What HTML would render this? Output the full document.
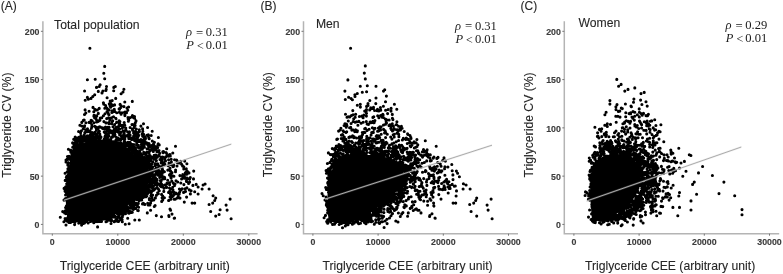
<!DOCTYPE html>
<html><head><meta charset="utf-8"><style>
html,body{margin:0;padding:0;background:#fff;width:783px;height:274px;overflow:hidden}
svg{display:block;will-change:transform}
.lab{font-family:"Liberation Sans",sans-serif;font-size:12px;fill:#262626;stroke:#262626;stroke-width:0.1}
.ttl{font-family:"Liberation Sans",sans-serif;font-size:12.2px;fill:#262626;stroke:#262626;stroke-width:0.1}
.tl{font-family:"Liberation Sans",sans-serif;font-size:9.8px;font-weight:bold;fill:#3c3c3c;stroke:#3c3c3c;stroke-width:0.15}
.math{font-family:"Liberation Serif",serif;font-size:12.5px;fill:#1a1a1a}
.axis{fill:none;stroke:#b4b4b4;stroke-width:1.5}
.tick{fill:none;stroke:#777;stroke-width:1}
</style></head><body>
<svg width="783" height="274" viewBox="0 0 783 274">
<path d="M67.5 222.0 L66.5 200.0 L67.5 178.0 L69.5 163.0 L72.0 152.0 L79.0 145.0 L92.0 140.0 L110.0 140.0 L122.0 143.0 L131.0 152.0 L146.0 163.0 L151.0 178.0 L145.0 190.0 L134.0 201.0 L118.0 212.0 L105.0 220.0 L80.0 222.0 Z" fill="#000"/>
<path d="M105.9 90.5h0M113.7 90.7h0M98.3 91.4h0M107.1 97.7h0M85.2 100.3h0M112.2 100.6h0M132.3 101.4h0M103.4 102.8h0M110.7 103.3h0M103.7 104.1h0M114.6 104.9h0M120.1 104.4h0M105.6 105.6h0M109.9 105.6h0M112.5 105.7h0M113.0 105.5h0M121.1 105.9h0M93.0 107.4h0M110.6 107.3h0M120.8 107.5h0M128.6 107.0h0M99.2 108.4h0M104.8 108.2h0M106.9 108.0h0M119.1 108.9h0M127.0 108.1h0M85.1 109.9h0M94.8 109.4h0M95.6 109.9h0M107.5 109.1h0M109.0 110.0h0M114.3 109.3h0M119.5 109.2h0M97.3 110.0h0M108.2 110.1h0M112.0 110.8h0M127.8 110.2h0M89.1 111.2h0M93.8 111.7h0M107.0 111.5h0M112.6 112.0h0M114.7 111.4h0M108.0 112.8h0M111.9 112.4h0M116.7 112.8h0M119.3 112.3h0M122.0 112.8h0M124.5 112.3h0M125.3 112.1h0M126.5 112.8h0M85.8 113.0h0M98.3 113.4h0M98.3 113.4h0M105.0 113.8h0M120.7 113.3h0M121.4 113.4h0M84.5 114.5h0M108.5 114.3h0M109.0 114.6h0M121.1 114.2h0M124.8 114.8h0M94.0 115.4h0M96.4 115.7h0M103.4 115.7h0M124.9 115.6h0M132.4 115.6h0M93.9 116.3h0M95.6 116.0h0M96.8 116.1h0M113.5 116.8h0M132.8 117.0h0M134.5 116.5h0M94.6 117.7h0M95.6 118.0h0M95.1 117.0h0M101.7 117.7h0M108.6 117.7h0M111.4 117.9h0M128.0 117.6h0M130.2 117.6h0M133.5 117.4h0M95.4 118.3h0M100.3 118.0h0M106.7 118.6h0M115.8 118.3h0M116.0 118.8h0M128.2 118.9h0M134.6 118.2h0M84.2 120.0h0M96.4 119.6h0M99.8 119.8h0M109.8 119.9h0M83.4 120.4h0M91.1 120.2h0M92.1 120.7h0M99.4 120.6h0M99.9 120.2h0M112.7 120.8h0M119.1 120.7h0M128.7 120.4h0M136.0 120.8h0M96.7 121.9h0M98.0 121.5h0M103.9 121.6h0M119.9 121.6h0M119.2 122.0h0M128.4 121.3h0M136.0 121.1h0M81.8 122.4h0M85.9 122.7h0M89.1 122.4h0M90.5 122.7h0M93.9 122.7h0M106.0 122.9h0M108.8 122.5h0M112.0 122.1h0M116.6 122.4h0M124.2 122.5h0M135.3 122.8h0M109.0 123.7h0M111.7 123.8h0M119.5 123.4h0M143.5 123.8h0M91.8 124.8h0M114.6 124.6h0M124.3 124.6h0M132.0 124.6h0M132.9 124.5h0M79.9 125.3h0M84.6 125.7h0M119.0 125.4h0M120.1 125.2h0M121.2 125.4h0M122.8 125.4h0M124.8 125.3h0M135.1 125.4h0M81.8 126.0h0M84.4 126.7h0M91.8 126.8h0M94.7 126.2h0M99.4 126.7h0M105.5 127.0h0M113.0 126.7h0M117.5 127.0h0M134.4 126.7h0M140.9 126.1h0M95.6 127.3h0M96.7 127.4h0M96.2 127.3h0M98.3 127.9h0M100.4 127.1h0M102.3 127.7h0M107.8 127.2h0M109.1 127.3h0M116.1 127.2h0M117.9 127.3h0M118.5 127.9h0M123.0 127.3h0M122.7 127.5h0M130.1 127.5h0M134.2 127.8h0M147.6 127.5h0M83.3 128.7h0M87.5 128.9h0M91.5 128.2h0M96.5 128.9h0M97.0 128.7h0M98.1 128.9h0M102.4 128.3h0M103.3 128.7h0M103.8 128.1h0M106.4 128.5h0M106.9 128.6h0M115.3 128.8h0M119.6 129.0h0M122.2 128.2h0M125.8 128.1h0M142.6 128.9h0M85.8 129.8h0M105.2 129.2h0M106.5 129.5h0M109.3 129.8h0M114.4 129.2h0M115.7 129.8h0M118.3 130.0h0M125.8 129.8h0M132.4 129.1h0M136.3 129.1h0M139.3 129.8h0M81.4 130.7h0M86.0 130.7h0M90.0 130.7h0M90.0 131.0h0M96.4 130.3h0M108.1 130.4h0M110.5 130.5h0M113.3 130.7h0M124.6 130.9h0M132.6 130.3h0M78.6 131.5h0M85.9 131.2h0M87.7 131.7h0M87.7 131.5h0M90.0 131.4h0M99.4 131.4h0M106.8 131.1h0M113.9 131.6h0M115.8 131.6h0M118.5 132.0h0M119.6 132.0h0M123.0 131.0h0M127.6 131.8h0M129.5 131.9h0M135.4 131.3h0M139.4 131.6h0M142.8 131.4h0M152.2 131.2h0M80.6 132.8h0M84.8 132.6h0M85.1 132.6h0M90.3 132.2h0M92.2 132.6h0M94.9 132.2h0M98.2 132.6h0M104.2 132.1h0M106.6 132.9h0M109.4 132.9h0M111.9 132.6h0M118.4 132.3h0M120.9 132.5h0M120.8 132.8h0M120.9 132.2h0M124.2 132.8h0M128.8 132.5h0M133.6 132.9h0M135.2 132.3h0M137.6 132.6h0M90.8 133.7h0M92.2 133.2h0M94.4 133.6h0M105.2 133.1h0M106.7 133.7h0M114.2 133.2h0M119.7 133.7h0M124.2 133.1h0M134.1 133.0h0M137.9 133.9h0M142.5 133.6h0M84.3 134.7h0M95.8 134.1h0M96.8 134.7h0M99.8 134.1h0M106.1 134.6h0M106.6 134.7h0M107.3 134.3h0M113.0 134.6h0M113.5 134.5h0M114.9 134.4h0M119.6 134.8h0M123.8 134.3h0M124.0 134.2h0M130.0 134.7h0M134.6 134.4h0M135.9 134.8h0M142.1 134.3h0M143.6 134.2h0M148.3 134.7h0M80.9 135.3h0M87.2 135.9h0M90.2 135.1h0M91.4 135.4h0M93.2 135.9h0M96.2 135.7h0M99.9 135.2h0M108.8 135.8h0M112.9 135.8h0M115.0 136.0h0M121.0 135.6h0M122.9 135.5h0M124.2 135.9h0M126.0 135.8h0M127.8 135.1h0M129.1 135.9h0M130.1 135.3h0M134.9 135.8h0M138.7 135.4h0M146.9 135.2h0M148.3 135.7h0M151.2 135.5h0M81.4 136.2h0M83.4 136.7h0M88.6 136.0h0M89.0 136.3h0M92.4 136.6h0M98.2 136.5h0M105.3 136.0h0M105.0 136.6h0M106.6 136.4h0M108.3 136.7h0M108.3 136.8h0M114.0 136.1h0M121.9 136.8h0M127.7 136.2h0M129.1 136.3h0M133.7 136.1h0M137.0 136.7h0M137.9 136.7h0M142.6 136.1h0M144.2 136.5h0M144.0 136.9h0M75.2 137.1h0M78.7 137.4h0M80.4 137.3h0M82.5 137.7h0M85.2 137.1h0M88.6 137.9h0M90.1 137.7h0M92.0 137.6h0M92.6 137.5h0M93.6 137.4h0M94.1 137.2h0M96.7 137.4h0M96.3 137.4h0M97.8 137.0h0M99.0 137.7h0M99.6 137.9h0M101.0 137.0h0M100.6 137.4h0M111.5 137.2h0M112.2 137.3h0M116.6 137.5h0M124.2 137.2h0M124.8 137.9h0M132.5 137.7h0M143.9 137.6h0M148.6 137.5h0M158.4 137.5h0M76.3 138.0h0M79.0 138.6h0M83.1 138.6h0M85.9 138.9h0M86.3 138.1h0M88.8 138.6h0M92.0 138.4h0M93.9 138.4h0M95.9 138.3h0M95.0 138.6h0M99.3 138.6h0M100.6 138.1h0M104.3 138.9h0M107.4 138.5h0M118.1 138.1h0M121.3 138.3h0M122.3 138.7h0M128.8 138.6h0M130.2 138.1h0M134.6 138.5h0M136.4 138.6h0M137.6 138.3h0M145.4 138.7h0M145.5 138.1h0M145.1 138.2h0M149.2 138.8h0M73.7 139.2h0M74.8 139.9h0M77.4 139.8h0M77.6 139.6h0M77.5 139.2h0M79.3 139.4h0M80.0 139.7h0M80.2 139.6h0M84.8 140.0h0M86.0 139.9h0M85.1 139.8h0M88.7 139.9h0M89.6 139.8h0M89.2 139.4h0M93.3 139.5h0M94.9 139.8h0M95.3 139.7h0M98.7 139.6h0M105.2 139.2h0M105.8 139.1h0M108.8 139.9h0M110.8 139.9h0M110.0 139.8h0M116.7 139.6h0M116.0 139.9h0M119.2 139.0h0M119.5 139.9h0M119.4 140.0h0M124.8 139.2h0M131.3 139.2h0M131.8 139.6h0M132.7 139.1h0M140.6 139.7h0M140.9 139.6h0M79.9 140.1h0M81.7 141.0h0M82.2 140.4h0M86.4 140.0h0M86.8 140.1h0M88.4 140.2h0M91.1 140.9h0M93.0 140.4h0M96.6 140.7h0M99.9 140.9h0M99.3 140.1h0M103.9 141.0h0M103.9 140.3h0M104.2 140.9h0M105.1 140.2h0M108.1 140.3h0M110.2 140.6h0M116.4 140.1h0M116.3 140.6h0M118.0 140.1h0M120.5 140.4h0M124.5 140.9h0M134.7 140.8h0M136.6 140.2h0M136.3 140.7h0M138.4 140.5h0M139.2 140.8h0M140.4 140.8h0M141.4 140.2h0M142.8 140.2h0M144.4 140.0h0M75.6 141.8h0M76.2 141.9h0M78.5 141.3h0M81.3 141.7h0M83.2 141.3h0M84.4 141.2h0M85.7 141.1h0M87.6 141.5h0M89.7 141.9h0M90.7 141.1h0M92.8 141.9h0M98.6 141.2h0M102.1 141.1h0M111.4 141.7h0M113.2 141.8h0M114.0 141.7h0M139.1 141.4h0M139.7 141.3h0M141.1 141.9h0M145.2 141.6h0M152.3 141.1h0M72.6 142.9h0M79.8 142.6h0M81.9 142.8h0M82.2 142.9h0M86.6 142.0h0M88.3 142.2h0M91.4 142.3h0M107.1 142.0h0M113.3 142.0h0M115.1 142.1h0M118.3 143.0h0M124.0 142.3h0M127.9 142.2h0M128.4 142.7h0M129.1 142.7h0M129.9 142.4h0M142.7 142.4h0M143.1 142.7h0M144.9 142.1h0M144.9 143.0h0M154.4 142.2h0M74.0 143.9h0M75.5 143.7h0M76.7 143.3h0M116.3 143.6h0M120.3 143.4h0M120.3 143.5h0M121.0 143.4h0M125.5 143.9h0M126.4 143.1h0M128.4 143.1h0M129.1 143.7h0M130.5 143.2h0M136.7 143.0h0M145.3 143.2h0M147.3 143.1h0M149.0 143.6h0M158.2 143.8h0M74.1 144.2h0M76.5 144.8h0M76.2 144.6h0M76.5 144.4h0M77.0 144.9h0M79.2 144.4h0M82.0 144.1h0M83.7 144.7h0M83.6 144.9h0M121.8 144.0h0M123.5 144.1h0M125.6 144.1h0M126.8 144.0h0M129.5 144.8h0M131.8 144.3h0M131.0 144.5h0M132.5 144.8h0M133.8 144.6h0M141.4 144.5h0M141.9 144.4h0M147.7 144.8h0M153.3 144.4h0M153.7 144.7h0M159.2 144.9h0M73.9 145.0h0M78.2 145.6h0M79.3 146.0h0M80.4 145.5h0M80.9 145.3h0M82.1 145.3h0M127.8 145.2h0M127.2 145.2h0M127.6 145.6h0M130.4 145.9h0M132.8 145.4h0M136.6 145.2h0M138.4 145.3h0M141.5 145.1h0M142.2 145.7h0M144.2 145.1h0M148.4 145.7h0M148.5 145.5h0M151.1 145.6h0M154.5 146.0h0M157.8 145.2h0M74.6 146.2h0M77.2 146.9h0M124.1 146.7h0M124.7 147.0h0M125.1 146.4h0M128.1 146.1h0M129.5 146.4h0M134.0 147.0h0M142.1 147.0h0M153.8 146.2h0M72.7 147.3h0M74.7 147.9h0M79.0 147.3h0M79.8 147.2h0M79.1 147.0h0M123.8 147.8h0M124.5 147.8h0M131.0 147.1h0M131.4 147.1h0M133.1 147.9h0M138.0 147.1h0M140.7 147.4h0M142.8 147.8h0M144.4 147.2h0M148.8 147.4h0M150.4 147.1h0M153.4 147.5h0M155.8 147.0h0M157.7 147.6h0M74.3 148.4h0M77.9 148.2h0M125.8 148.5h0M128.7 148.6h0M130.7 148.0h0M131.5 148.6h0M135.5 148.2h0M138.7 148.0h0M147.1 148.7h0M148.4 148.8h0M152.7 148.8h0M152.9 148.5h0M166.7 148.8h0M68.4 149.3h0M74.9 149.7h0M131.5 149.3h0M134.5 150.0h0M134.9 149.7h0M135.2 149.8h0M141.6 149.3h0M142.4 149.2h0M155.2 149.5h0M70.9 150.2h0M70.2 150.3h0M71.2 150.7h0M73.5 150.4h0M73.2 150.5h0M75.4 150.4h0M126.2 150.2h0M129.1 150.9h0M129.5 150.4h0M131.8 150.1h0M135.9 150.1h0M135.4 150.5h0M139.8 150.9h0M151.2 150.0h0M156.1 150.1h0M159.0 150.5h0M74.7 151.5h0M128.3 151.6h0M133.5 151.1h0M134.0 151.7h0M136.0 151.8h0M137.3 151.4h0M149.5 151.6h0M149.6 151.2h0M149.8 151.1h0M153.3 151.4h0M157.0 151.8h0M158.7 151.6h0M162.8 151.9h0M163.5 151.5h0M70.9 152.3h0M71.9 152.6h0M72.4 153.0h0M73.0 152.3h0M74.4 152.6h0M129.0 152.8h0M131.7 152.8h0M133.6 152.6h0M137.0 152.0h0M138.5 152.5h0M138.7 152.5h0M143.7 152.3h0M146.2 152.8h0M146.8 152.0h0M149.1 152.8h0M163.1 152.8h0M166.0 152.5h0M73.0 153.0h0M136.1 153.5h0M140.8 153.5h0M143.9 153.5h0M144.9 153.8h0M144.1 154.0h0M146.2 153.6h0M159.7 153.2h0M166.5 153.3h0M172.8 153.0h0M71.9 154.3h0M134.9 154.2h0M135.2 154.2h0M135.8 154.5h0M136.0 154.2h0M135.3 154.9h0M137.2 154.1h0M137.5 154.3h0M141.4 154.9h0M145.9 154.6h0M149.3 154.7h0M155.8 155.0h0M170.0 154.5h0M134.6 155.8h0M138.9 155.3h0M141.8 155.2h0M149.4 155.6h0M150.0 155.5h0M154.1 156.0h0M154.2 155.2h0M156.8 155.9h0M159.2 155.9h0M159.0 155.0h0M167.1 155.6h0M170.3 156.0h0M67.5 156.5h0M69.0 156.2h0M71.5 156.2h0M73.1 156.4h0M135.4 156.6h0M136.6 156.6h0M137.0 156.2h0M138.5 156.4h0M138.5 156.2h0M139.1 156.9h0M139.6 156.5h0M142.0 156.2h0M147.4 156.2h0M151.3 156.8h0M154.9 156.3h0M155.9 156.4h0M155.2 156.0h0M165.8 156.9h0M168.6 156.2h0M69.7 157.4h0M69.9 157.2h0M71.3 157.1h0M135.2 157.1h0M135.8 157.6h0M136.9 157.7h0M139.0 157.3h0M140.9 157.4h0M143.6 158.0h0M144.5 157.3h0M146.7 157.6h0M146.9 157.4h0M147.8 157.9h0M150.5 157.1h0M151.8 157.2h0M153.5 157.1h0M156.2 157.8h0M157.3 157.1h0M161.4 157.3h0M162.2 157.6h0M162.5 157.1h0M163.1 157.2h0M68.4 158.3h0M70.0 158.7h0M72.4 158.7h0M142.5 158.5h0M146.3 158.2h0M147.3 159.0h0M148.0 158.3h0M149.4 158.7h0M152.0 158.3h0M66.8 159.8h0M67.2 159.1h0M68.2 159.1h0M69.6 159.2h0M138.1 159.8h0M139.5 159.2h0M141.1 159.5h0M142.1 159.4h0M154.1 159.1h0M160.0 159.5h0M161.8 159.7h0M164.8 159.2h0M168.6 159.8h0M171.2 159.3h0M174.6 159.7h0M66.0 160.1h0M71.3 160.5h0M71.4 160.5h0M139.7 160.5h0M142.6 160.0h0M143.1 160.5h0M144.8 160.1h0M147.2 160.5h0M148.3 160.6h0M150.7 160.6h0M150.4 160.9h0M156.4 160.6h0M156.2 160.8h0M162.0 160.7h0M165.5 160.9h0M176.6 160.1h0M142.5 161.4h0M143.3 161.9h0M144.9 161.1h0M145.0 161.4h0M145.4 161.6h0M148.4 161.8h0M152.7 161.7h0M161.8 161.1h0M177.1 161.1h0M180.8 161.4h0M66.0 162.0h0M68.4 162.7h0M68.2 162.7h0M71.1 163.0h0M142.9 162.4h0M143.3 162.7h0M145.0 162.8h0M146.4 162.4h0M146.0 162.9h0M148.8 162.7h0M161.2 162.2h0M161.2 162.9h0M163.9 162.9h0M171.4 162.0h0M177.3 162.6h0M71.1 163.1h0M143.9 163.7h0M143.8 163.6h0M146.9 163.6h0M147.7 163.1h0M149.3 163.7h0M149.2 163.9h0M151.8 164.0h0M155.2 163.5h0M157.7 163.9h0M162.6 163.4h0M169.0 163.0h0M178.9 163.0h0M186.9 163.7h0M68.0 164.2h0M67.9 164.0h0M71.2 164.2h0M146.9 164.8h0M147.1 164.5h0M148.0 164.1h0M149.9 164.5h0M150.1 164.9h0M155.0 164.2h0M156.6 164.8h0M163.4 164.8h0M164.9 164.2h0M170.4 164.1h0M171.1 164.8h0M181.6 164.2h0M67.8 165.1h0M147.0 165.4h0M151.4 165.1h0M155.2 165.4h0M158.2 165.1h0M158.7 166.0h0M168.2 165.7h0M173.7 165.0h0M182.6 165.9h0M69.4 166.7h0M70.1 167.0h0M70.8 166.2h0M147.6 166.9h0M148.6 166.2h0M150.6 166.1h0M152.6 167.0h0M161.2 166.6h0M173.0 166.6h0M173.4 166.4h0M177.0 166.0h0M183.8 166.8h0M68.8 167.4h0M69.4 167.5h0M146.8 167.6h0M148.8 167.8h0M148.0 167.5h0M149.4 167.9h0M158.4 167.9h0M161.5 167.4h0M161.9 167.6h0M67.9 168.7h0M70.8 168.2h0M152.4 168.0h0M156.1 168.1h0M156.2 168.9h0M170.0 168.3h0M183.8 168.9h0M186.3 168.9h0M69.5 169.1h0M70.1 169.2h0M149.5 169.1h0M151.7 169.2h0M152.1 169.4h0M155.3 169.4h0M162.5 169.3h0M68.2 170.7h0M69.0 170.7h0M70.0 170.3h0M146.2 170.2h0M147.2 170.6h0M149.1 170.8h0M152.7 171.0h0M152.1 170.8h0M154.5 170.7h0M155.5 170.8h0M158.5 170.2h0M161.9 170.2h0M167.8 170.1h0M170.3 170.9h0M175.6 170.1h0M67.2 171.8h0M68.6 171.3h0M147.0 171.2h0M148.6 171.5h0M149.4 171.4h0M149.4 171.7h0M149.8 171.5h0M150.2 172.0h0M152.4 171.9h0M152.2 171.5h0M157.3 171.6h0M159.8 171.8h0M161.7 171.6h0M163.0 171.0h0M164.4 171.7h0M170.6 171.1h0M175.5 171.8h0M186.5 171.6h0M187.3 171.2h0M193.7 171.1h0M68.6 172.7h0M70.0 172.4h0M147.5 172.2h0M148.1 172.2h0M149.1 172.0h0M151.6 172.5h0M152.3 172.5h0M158.1 172.0h0M159.4 172.8h0M160.2 172.1h0M162.0 172.3h0M162.0 172.5h0M172.0 172.6h0M185.3 172.8h0M189.0 172.9h0M65.1 173.2h0M70.3 173.2h0M150.2 173.8h0M151.3 173.7h0M152.1 173.3h0M152.1 173.6h0M156.1 173.2h0M159.5 173.6h0M162.2 173.4h0M170.4 174.0h0M187.1 173.4h0M68.2 174.8h0M69.0 174.5h0M149.2 174.2h0M152.7 174.9h0M153.7 175.0h0M154.1 174.8h0M155.5 174.5h0M157.1 174.1h0M158.7 174.2h0M161.4 174.1h0M169.5 174.9h0M182.8 174.6h0M184.8 174.5h0M186.2 174.2h0M187.0 174.1h0M69.3 175.3h0M148.0 175.0h0M150.2 175.6h0M152.8 175.8h0M158.2 175.2h0M172.5 175.7h0M179.9 175.6h0M183.7 175.8h0M66.7 176.4h0M150.3 176.6h0M152.5 176.0h0M153.0 176.6h0M154.2 176.5h0M160.2 176.5h0M160.7 176.0h0M161.7 176.6h0M162.7 176.6h0M163.5 177.0h0M170.8 176.8h0M173.9 176.2h0M182.5 176.1h0M66.3 177.5h0M68.2 177.6h0M149.5 177.9h0M150.1 177.6h0M155.4 177.6h0M159.7 177.5h0M164.7 177.9h0M164.5 177.3h0M171.1 177.9h0M185.2 177.5h0M190.3 177.5h0M66.6 178.2h0M66.9 178.4h0M68.4 178.7h0M153.0 178.9h0M154.3 178.2h0M164.7 178.8h0M181.6 178.9h0M184.2 178.2h0M187.2 178.1h0M193.5 178.9h0M67.8 179.8h0M68.3 179.3h0M149.6 179.3h0M151.0 179.6h0M152.6 179.9h0M153.9 179.9h0M156.8 179.4h0M157.0 179.9h0M162.5 179.1h0M186.9 179.4h0M189.6 179.1h0M65.2 180.4h0M147.4 180.8h0M148.5 180.8h0M148.0 180.5h0M149.1 180.7h0M152.1 180.8h0M160.3 180.5h0M167.7 180.2h0M176.0 180.7h0M67.8 181.9h0M67.5 181.6h0M68.0 181.6h0M147.7 181.8h0M148.7 181.0h0M148.7 181.7h0M151.2 181.3h0M152.7 181.6h0M156.4 181.4h0M161.0 181.6h0M171.8 181.1h0M186.4 181.1h0M186.5 181.5h0M146.6 182.3h0M150.7 182.8h0M152.8 182.8h0M152.7 182.9h0M153.9 182.8h0M153.5 182.7h0M155.7 182.5h0M156.6 183.0h0M157.1 182.6h0M169.5 182.8h0M177.7 182.0h0M189.2 182.4h0M189.6 182.1h0M66.7 183.8h0M67.1 183.5h0M149.7 183.6h0M151.0 183.3h0M150.9 183.5h0M151.2 183.9h0M152.3 183.9h0M157.4 183.4h0M166.9 183.4h0M173.9 183.7h0M173.2 183.0h0M180.8 183.0h0M188.6 183.4h0M67.6 184.5h0M67.6 184.9h0M69.3 184.7h0M149.7 184.1h0M149.2 184.9h0M150.3 184.5h0M155.6 184.3h0M156.9 184.9h0M156.1 184.8h0M157.2 184.9h0M159.3 184.2h0M160.0 184.1h0M160.2 184.9h0M161.7 184.4h0M169.6 184.8h0M175.0 184.0h0M183.9 184.6h0M196.2 184.4h0M68.3 185.1h0M69.2 185.2h0M145.8 186.0h0M145.8 185.5h0M146.2 185.0h0M146.5 185.1h0M146.1 185.8h0M152.8 185.8h0M153.6 185.8h0M160.4 185.9h0M164.6 185.0h0M174.6 185.5h0M192.9 185.5h0M192.9 185.4h0M66.0 186.6h0M146.8 186.6h0M147.0 186.2h0M151.5 186.9h0M161.1 186.6h0M161.8 186.7h0M162.4 186.8h0M166.4 186.5h0M65.1 187.5h0M67.6 187.8h0M68.6 187.4h0M68.1 187.6h0M68.1 187.8h0M68.5 187.5h0M69.1 187.4h0M144.0 187.5h0M147.0 187.6h0M146.7 187.1h0M148.9 187.2h0M148.9 187.3h0M149.1 187.5h0M150.4 187.3h0M156.9 187.9h0M157.3 187.8h0M166.6 187.5h0M172.7 187.2h0M186.9 187.9h0M64.1 188.4h0M66.8 188.5h0M66.7 189.0h0M144.7 188.6h0M145.3 188.3h0M152.7 188.8h0M153.5 188.5h0M154.9 188.9h0M154.2 189.0h0M164.0 188.2h0M169.5 188.0h0M182.1 188.8h0M185.1 188.7h0M66.5 189.8h0M142.8 189.7h0M143.6 189.0h0M143.2 189.6h0M144.7 189.1h0M147.2 189.2h0M148.8 189.2h0M153.9 189.9h0M158.5 189.3h0M170.5 189.1h0M173.0 190.0h0M179.4 189.1h0M181.1 189.9h0M189.4 189.9h0M144.1 190.0h0M145.6 190.3h0M145.4 190.6h0M146.8 190.3h0M149.9 190.6h0M152.9 190.5h0M152.7 190.3h0M159.3 190.8h0M191.1 190.8h0M65.0 191.1h0M65.5 191.6h0M67.3 191.6h0M141.5 191.9h0M143.7 191.6h0M144.1 191.7h0M144.6 191.6h0M145.5 191.6h0M151.5 191.7h0M163.8 191.4h0M169.6 191.2h0M185.5 191.4h0M194.7 191.8h0M68.5 192.8h0M140.0 192.9h0M141.7 192.4h0M142.8 192.7h0M148.3 192.3h0M150.4 192.2h0M157.6 192.7h0M168.6 192.4h0M168.8 192.2h0M172.2 192.2h0M173.9 192.2h0M179.6 192.3h0M184.0 192.3h0M183.6 192.4h0M66.5 193.5h0M68.6 193.6h0M68.0 193.0h0M140.3 193.1h0M141.5 193.0h0M146.5 193.7h0M147.1 194.0h0M147.4 193.7h0M158.3 193.8h0M174.4 193.6h0M175.9 193.1h0M176.1 193.4h0M190.4 193.9h0M65.6 194.9h0M137.6 194.6h0M139.5 194.8h0M140.7 194.3h0M142.8 194.1h0M142.7 194.1h0M143.5 194.8h0M144.1 194.2h0M145.6 194.7h0M151.5 194.5h0M161.6 194.4h0M170.7 194.4h0M170.5 194.3h0M174.2 194.4h0M177.9 194.5h0M178.1 194.0h0M179.2 194.1h0M68.7 196.0h0M137.7 195.3h0M137.5 196.0h0M137.6 195.6h0M141.1 195.6h0M146.9 195.8h0M150.9 195.7h0M151.7 195.5h0M152.6 195.1h0M156.4 195.2h0M172.7 195.9h0M173.3 195.6h0M137.4 196.8h0M143.2 196.7h0M144.0 196.8h0M146.1 196.7h0M162.7 196.1h0M170.1 196.9h0M171.2 196.0h0M172.3 196.7h0M178.2 196.4h0M135.8 197.6h0M138.9 197.4h0M139.1 197.6h0M140.8 197.0h0M141.4 197.8h0M143.1 197.4h0M152.0 197.7h0M155.4 197.9h0M162.1 197.7h0M164.4 197.7h0M177.5 197.9h0M186.6 197.1h0M65.2 198.7h0M66.5 198.2h0M68.3 198.3h0M134.9 198.1h0M135.0 198.1h0M135.5 198.0h0M136.1 198.9h0M137.8 198.2h0M137.3 198.4h0M137.0 198.8h0M137.5 198.7h0M149.3 198.6h0M66.6 199.6h0M133.8 199.9h0M135.4 199.1h0M136.5 199.6h0M137.2 199.4h0M139.3 199.4h0M141.7 200.0h0M149.4 199.7h0M162.7 199.9h0M170.9 199.2h0M174.2 199.3h0M175.4 199.1h0M64.0 200.1h0M66.4 200.1h0M67.2 200.6h0M68.6 200.9h0M68.6 200.4h0M139.0 200.7h0M139.5 200.3h0M151.6 200.5h0M153.8 200.0h0M67.2 201.5h0M67.5 201.4h0M130.8 201.3h0M133.8 201.5h0M161.7 201.4h0M67.3 202.2h0M67.6 202.9h0M128.5 202.3h0M132.3 202.3h0M134.2 202.8h0M150.6 202.9h0M184.3 202.1h0M126.7 203.5h0M131.2 203.3h0M131.5 203.3h0M135.2 203.5h0M136.0 203.4h0M136.8 203.9h0M138.3 203.4h0M142.5 203.9h0M143.3 203.4h0M147.7 203.3h0M67.2 204.2h0M126.3 204.7h0M129.8 204.6h0M129.7 204.1h0M130.9 204.7h0M131.4 204.3h0M132.9 204.5h0M135.3 204.4h0M144.8 204.4h0M148.2 205.0h0M149.9 204.9h0M66.4 206.0h0M123.4 205.8h0M125.5 205.8h0M126.3 205.9h0M133.8 205.4h0M133.9 205.1h0M136.8 205.5h0M137.4 205.6h0M155.1 205.5h0M67.9 206.5h0M67.6 206.6h0M68.8 206.2h0M68.9 206.6h0M122.8 206.3h0M126.7 206.3h0M126.3 206.6h0M132.8 206.9h0M137.4 206.8h0M154.3 206.5h0M65.6 207.6h0M67.1 207.5h0M68.8 207.4h0M68.4 207.8h0M121.6 207.1h0M122.2 207.7h0M122.1 207.9h0M124.8 207.7h0M125.9 207.8h0M126.2 207.3h0M127.6 207.1h0M130.0 207.2h0M131.9 207.1h0M134.0 207.3h0M138.6 207.2h0M119.4 208.5h0M120.6 208.2h0M120.2 209.0h0M123.0 208.7h0M124.0 208.1h0M124.8 208.3h0M124.1 208.4h0M124.7 208.3h0M125.5 208.2h0M127.7 208.6h0M130.6 208.2h0M131.2 208.0h0M133.0 208.6h0M133.3 208.5h0M135.5 208.5h0M67.5 209.2h0M67.5 209.7h0M67.9 210.0h0M120.0 209.7h0M120.1 209.4h0M123.9 209.3h0M127.0 209.8h0M127.2 209.5h0M133.3 209.5h0M65.2 210.8h0M65.8 210.8h0M67.1 211.0h0M119.1 210.2h0M120.8 210.2h0M121.8 210.7h0M124.4 210.2h0M125.6 211.0h0M126.2 210.5h0M128.8 210.8h0M137.7 210.5h0M138.3 210.6h0M150.6 210.2h0M62.7 211.6h0M68.3 211.4h0M116.7 211.3h0M117.7 211.1h0M119.4 211.8h0M120.7 211.7h0M121.9 212.0h0M124.7 211.4h0M125.6 212.0h0M130.7 211.5h0M65.3 212.7h0M113.8 212.9h0M114.1 212.8h0M116.8 212.8h0M116.3 212.9h0M119.5 212.6h0M120.4 212.9h0M124.0 212.5h0M128.5 212.9h0M129.8 212.7h0M130.8 212.2h0M130.0 212.6h0M131.8 212.4h0M132.3 212.2h0M64.7 213.0h0M65.8 213.6h0M113.4 213.7h0M113.3 213.5h0M117.0 213.5h0M117.8 213.4h0M120.8 214.0h0M122.5 213.8h0M122.4 213.8h0M123.8 213.2h0M125.5 213.8h0M129.0 213.2h0M68.3 214.9h0M69.1 214.5h0M109.6 214.9h0M110.0 214.6h0M111.2 214.4h0M113.6 214.1h0M118.5 214.7h0M112.9 215.7h0M122.8 215.4h0M68.6 216.4h0M107.6 216.1h0M107.2 216.6h0M112.5 216.8h0M113.0 216.9h0M115.2 216.4h0M117.9 216.7h0M119.1 216.4h0M122.4 216.7h0M161.5 216.7h0M60.3 217.3h0M67.6 217.9h0M69.4 217.5h0M105.7 217.1h0M106.5 217.3h0M107.4 217.7h0M109.0 217.7h0M111.1 217.5h0M114.9 217.2h0M65.1 218.5h0M67.4 218.8h0M69.4 218.3h0M100.3 218.3h0M104.0 218.9h0M104.6 218.5h0M107.4 218.9h0M110.5 218.1h0M110.1 218.1h0M110.5 218.9h0M117.3 218.7h0M120.3 218.3h0M66.2 219.8h0M67.7 219.1h0M69.1 219.1h0M73.0 219.9h0M73.1 219.9h0M79.8 219.9h0M84.6 219.8h0M84.9 219.6h0M91.5 219.5h0M92.7 219.1h0M98.6 219.2h0M99.4 219.6h0M99.0 219.4h0M99.3 219.0h0M101.8 219.0h0M108.8 220.0h0M111.1 219.3h0M120.5 219.0h0M120.6 219.7h0M122.1 219.6h0M65.2 220.3h0M67.8 220.3h0M68.5 220.3h0M69.6 220.2h0M75.7 221.0h0M78.7 221.0h0M79.2 220.8h0M79.9 220.6h0M80.7 221.0h0M84.2 220.9h0M86.7 220.4h0M91.8 220.0h0M91.1 220.6h0M93.4 220.8h0M94.5 220.7h0M95.6 221.0h0M97.0 221.0h0M99.6 220.5h0M99.9 220.2h0M101.2 220.5h0M107.0 220.4h0M107.1 220.2h0M109.4 220.1h0M111.6 220.3h0M111.2 220.8h0M115.7 220.2h0M63.9 221.8h0M67.1 221.1h0M69.8 221.9h0M71.9 221.6h0M74.0 221.7h0M79.5 221.0h0M81.0 221.2h0M81.7 221.1h0M82.6 221.1h0M84.0 221.7h0M84.7 221.5h0M85.7 221.4h0M86.9 221.2h0M90.6 221.5h0M92.5 221.1h0M94.9 221.7h0M97.0 221.6h0M98.7 221.4h0M101.0 221.4h0M101.5 221.5h0M106.0 221.7h0M107.0 221.3h0M114.2 221.7h0M114.4 221.4h0M115.7 221.1h0M118.5 221.5h0M118.1 221.1h0M118.1 221.4h0M68.9 222.5h0M69.8 222.4h0M70.5 222.5h0M75.1 222.1h0M80.8 222.7h0M83.7 222.5h0M84.5 223.0h0M84.2 222.5h0M88.1 223.0h0M93.8 222.7h0M78.7 223.1h0M82.6 223.4h0M83.4 223.5h0M111.0 223.5h0M129.1 223.7h0M66.0 225.0h0M74.6 224.6h0M125.3 224.2h0M81.6 225.1h0M97.6 226.9h0M89.9 48.2h0M104.7 66.4h0M103.8 73.3h0M104.7 78.8h0M87.4 79.7h0M95.2 79.2h0M100.1 84.7h0M99.2 86.5h0M96.5 87.4h0M106.5 86.5h0M106.2 89.2h0M102.9 91.0h0M102.0 92.9h0M84.6 91.0h0M113.8 87.4h0M115.3 86.5h0M123.9 89.2h0M123.0 92.0h0M121.1 93.8h0M94.7 94.7h0M92.8 96.5h0M91.0 98.4h0M88.3 99.3h0M87.4 97.4h0M115.7 98.4h0M110.2 101.1h0M109.3 103.8h0M112.0 104.7h0M124.8 102.0h0M123.9 106.6h0M230.1 199.1h0M226.1 205.1h0M227.1 210.1h0M231.1 218.7h0M215.7 198.1h0M214.7 200.5h0M212.7 203.1h0M209.1 204.5h0M210.7 211.5h0M215.7 216.1h0M220.1 209.7h0M219.1 214.5h0M213.1 195.7h0M209.1 189.0h0M203.1 185.0h0M202.1 189.0h0M198.1 187.0h0M205.1 184.0h0M192.1 203.1h0M194.7 203.1h0M198.1 194.0h0M170.0 209.1h0M172.0 214.1h0M169.0 216.5h0M174.6 218.1h0M180.0 198.1h0M168.6 200.5h0M175.5 146.3h0M169.2 154.7h0M184.7 161.1h0M122.3 221.8h0M134.8 220.0h0M139.3 220.0h0M127.7 218.3h0M156.3 215.6h0M147.3 212.9h0M168.8 215.6h0M174.2 218.3h0M170.6 210.2h0M168.8 200.4h0" fill="none" stroke="#000" stroke-width="3.1" stroke-linecap="round"/>
<path d="M63.8 200.3 L231.3 144.1" stroke="#c8c8c8" stroke-width="2.0" opacity="0.25" fill="none"/>
<path d="M63.8 200.3 L231.3 144.1" stroke="#ababab" stroke-width="1.0" fill="none"/>
<path d="M328.5 222.0 L327.5 200.0 L328.5 178.0 L331.5 172.0 L334.0 163.0 L341.0 157.0 L353.0 155.0 L371.0 155.0 L383.0 158.0 L391.0 165.0 L400.0 168.0 L405.0 180.0 L398.0 190.0 L387.0 200.0 L373.0 211.0 L362.0 220.0 L341.0 222.0 Z" fill="#000"/>
<path d="M355.0 96.5h0M386.4 96.1h0M345.3 99.5h0M375.8 103.6h0M394.4 104.2h0M368.0 105.4h0M366.6 106.4h0M383.4 106.2h0M360.4 107.1h0M370.8 107.8h0M373.5 107.2h0M380.4 107.5h0M371.0 108.7h0M373.4 108.4h0M391.1 108.4h0M366.5 109.6h0M369.7 109.9h0M377.5 109.4h0M380.6 109.8h0M388.1 109.5h0M396.8 109.3h0M352.8 110.6h0M366.3 110.7h0M374.6 110.5h0M377.9 110.1h0M377.3 110.8h0M380.7 110.2h0M385.6 110.2h0M364.7 111.1h0M378.8 111.0h0M391.0 111.1h0M366.5 113.2h0M387.6 113.6h0M345.5 114.3h0M353.1 114.7h0M355.7 114.3h0M382.8 114.3h0M383.1 114.9h0M392.3 114.4h0M351.4 115.6h0M363.9 115.1h0M377.7 115.8h0M380.6 115.6h0M348.1 116.8h0M349.7 116.9h0M359.4 116.5h0M361.9 116.1h0M362.4 116.6h0M366.4 116.1h0M373.8 116.8h0M347.0 117.3h0M355.2 117.3h0M363.1 117.7h0M372.9 117.4h0M378.9 117.7h0M382.2 117.3h0M383.4 117.5h0M353.7 118.8h0M392.4 118.3h0M385.3 119.1h0M386.6 119.8h0M389.1 120.0h0M392.9 119.6h0M348.3 121.0h0M374.9 120.6h0M353.2 121.4h0M356.7 121.7h0M358.9 121.4h0M366.3 121.6h0M372.9 121.2h0M386.2 121.6h0M396.9 121.7h0M355.2 122.3h0M363.2 122.2h0M370.8 122.2h0M370.4 122.1h0M370.9 122.7h0M370.1 122.1h0M373.2 122.6h0M374.2 122.6h0M344.9 123.7h0M351.1 123.5h0M361.1 123.3h0M367.1 124.0h0M386.1 123.4h0M386.5 123.0h0M392.3 123.9h0M345.8 124.1h0M346.6 124.4h0M368.4 124.4h0M385.6 124.2h0M389.8 124.9h0M392.0 124.1h0M396.7 124.7h0M396.1 124.8h0M344.1 125.5h0M346.9 125.8h0M357.9 125.3h0M383.5 125.0h0M389.0 125.6h0M379.9 126.7h0M381.0 126.8h0M391.3 126.1h0M391.2 126.1h0M393.4 126.2h0M398.6 126.2h0M401.4 126.2h0M346.2 127.2h0M349.6 127.8h0M350.7 127.4h0M372.4 127.8h0M380.9 127.2h0M340.9 128.2h0M364.7 128.8h0M365.4 128.4h0M374.4 128.8h0M375.0 128.2h0M378.4 128.0h0M390.8 128.3h0M394.2 128.8h0M400.4 128.6h0M402.1 128.2h0M340.2 130.0h0M352.8 129.9h0M355.6 129.7h0M369.1 129.3h0M374.1 129.3h0M380.6 130.0h0M383.6 129.4h0M391.3 129.4h0M393.4 129.9h0M393.3 129.9h0M396.5 129.8h0M397.9 129.8h0M400.5 130.0h0M343.2 130.8h0M351.8 130.1h0M357.4 130.7h0M367.1 130.4h0M379.0 130.8h0M385.1 130.8h0M392.5 130.9h0M338.6 131.1h0M343.5 131.6h0M346.7 131.8h0M354.8 131.6h0M357.1 131.8h0M377.6 131.3h0M378.1 131.3h0M398.1 131.3h0M404.2 131.5h0M346.0 132.4h0M362.3 132.5h0M363.9 132.3h0M364.9 132.5h0M371.7 132.6h0M373.3 132.5h0M373.2 132.1h0M384.6 132.9h0M385.6 132.4h0M397.0 133.3h0M407.6 133.9h0M342.4 134.6h0M362.6 134.5h0M371.1 134.9h0M381.2 134.3h0M387.3 134.2h0M393.2 134.7h0M394.3 134.3h0M398.7 134.4h0M407.9 134.5h0M341.4 135.1h0M342.8 135.0h0M352.6 135.8h0M361.7 135.9h0M376.9 135.5h0M378.6 135.7h0M410.0 135.6h0M349.9 136.8h0M354.2 136.8h0M359.4 136.8h0M366.8 136.2h0M376.2 136.2h0M390.7 137.0h0M394.2 137.0h0M398.9 136.8h0M343.6 137.7h0M344.3 137.0h0M348.9 137.4h0M350.9 137.0h0M353.8 137.7h0M361.6 137.4h0M366.9 137.0h0M370.0 137.7h0M379.7 137.6h0M385.6 137.6h0M410.8 137.2h0M341.2 138.5h0M356.6 138.0h0M359.4 138.1h0M360.7 138.3h0M361.1 138.1h0M368.6 138.7h0M376.8 138.8h0M377.6 138.6h0M378.6 138.1h0M403.3 138.4h0M406.3 138.1h0M407.1 138.9h0M411.0 138.5h0M336.8 139.4h0M337.5 139.0h0M343.5 139.2h0M345.9 139.4h0M366.6 139.1h0M367.3 139.4h0M372.7 139.1h0M372.9 139.9h0M373.9 139.1h0M374.3 139.3h0M391.9 139.1h0M402.4 140.0h0M405.8 139.5h0M408.2 139.4h0M416.9 139.5h0M342.9 141.0h0M359.4 140.5h0M360.3 140.5h0M362.8 140.8h0M363.9 140.5h0M381.2 140.4h0M382.5 140.3h0M383.1 140.3h0M398.6 140.5h0M425.3 140.7h0M343.9 141.2h0M349.1 141.1h0M351.7 141.5h0M366.7 141.6h0M368.2 141.1h0M368.2 141.7h0M370.9 141.2h0M373.8 141.2h0M375.1 141.1h0M383.3 141.2h0M396.2 141.8h0M409.9 141.5h0M414.1 141.7h0M347.4 142.0h0M348.3 142.1h0M348.1 142.4h0M351.9 142.2h0M352.5 142.5h0M358.1 142.6h0M358.1 142.8h0M362.6 142.0h0M367.7 142.1h0M376.1 143.0h0M377.4 142.6h0M378.8 142.2h0M381.9 142.9h0M382.6 143.0h0M386.2 142.3h0M409.6 142.6h0M416.1 142.7h0M344.8 143.1h0M347.5 143.5h0M347.7 143.2h0M355.7 143.0h0M359.7 143.1h0M367.7 143.1h0M367.1 143.1h0M372.2 143.8h0M383.9 143.9h0M383.0 143.9h0M384.3 143.2h0M385.6 143.8h0M387.0 143.3h0M391.9 143.9h0M393.8 143.0h0M407.3 143.5h0M412.1 143.3h0M413.9 143.0h0M338.9 144.6h0M345.9 144.1h0M348.9 144.6h0M358.7 144.2h0M363.2 144.1h0M364.0 144.6h0M365.3 144.4h0M368.1 144.4h0M369.0 144.0h0M371.0 144.9h0M382.5 144.8h0M385.1 145.0h0M392.1 144.2h0M417.8 144.8h0M339.1 145.4h0M340.7 145.5h0M347.1 145.9h0M348.3 145.7h0M350.3 145.9h0M350.7 145.6h0M355.0 145.1h0M354.1 145.4h0M361.7 145.1h0M362.2 145.8h0M365.7 145.3h0M370.9 145.7h0M370.7 145.0h0M372.8 146.0h0M382.9 145.2h0M389.5 145.2h0M389.3 145.7h0M395.7 145.8h0M399.3 145.1h0M401.7 145.3h0M410.2 145.7h0M411.9 145.2h0M336.3 146.0h0M338.7 146.6h0M339.8 146.5h0M341.5 146.1h0M341.2 147.0h0M344.0 147.0h0M344.4 146.0h0M347.4 146.1h0M350.0 147.0h0M350.3 146.7h0M351.6 146.6h0M355.7 147.0h0M365.2 146.9h0M374.2 146.2h0M381.2 146.9h0M381.5 146.1h0M393.7 146.7h0M402.6 146.6h0M410.7 146.7h0M417.0 146.5h0M335.5 147.7h0M336.4 147.0h0M341.8 148.0h0M345.9 147.9h0M349.7 147.2h0M349.3 147.1h0M349.7 147.9h0M351.2 147.8h0M359.0 147.1h0M360.4 147.6h0M363.7 147.1h0M365.3 147.7h0M366.6 147.9h0M369.9 147.8h0M371.3 147.3h0M371.7 147.5h0M384.3 147.4h0M388.3 147.8h0M393.4 147.1h0M395.4 147.7h0M395.7 147.1h0M396.7 147.6h0M397.3 147.1h0M399.6 147.5h0M415.8 147.3h0M332.3 148.6h0M333.7 149.0h0M335.5 148.8h0M346.8 148.7h0M347.4 148.6h0M352.9 148.2h0M355.1 148.6h0M357.5 148.4h0M358.3 148.2h0M363.4 149.0h0M366.1 148.9h0M369.0 148.1h0M372.7 148.2h0M376.9 148.4h0M377.6 148.3h0M379.8 148.6h0M381.6 148.1h0M390.4 148.2h0M395.1 149.0h0M395.6 148.6h0M396.4 148.5h0M403.1 148.3h0M404.5 148.3h0M406.6 148.7h0M407.1 148.3h0M414.3 148.0h0M334.7 149.9h0M338.9 149.1h0M340.1 149.0h0M341.7 149.7h0M341.4 149.7h0M344.8 149.8h0M346.9 150.0h0M349.9 149.5h0M351.9 149.0h0M357.6 149.6h0M360.0 149.6h0M364.7 149.8h0M364.3 149.9h0M364.6 149.3h0M364.0 149.8h0M369.8 149.0h0M375.5 149.1h0M377.5 149.7h0M380.9 149.0h0M381.5 149.9h0M393.1 149.0h0M393.9 149.9h0M393.1 149.3h0M395.4 149.1h0M400.7 149.7h0M402.5 149.8h0M404.3 149.7h0M423.5 149.5h0M427.1 149.8h0M338.1 150.0h0M338.9 150.3h0M339.4 150.2h0M343.2 150.5h0M345.8 150.5h0M345.5 150.2h0M346.1 150.2h0M347.6 150.3h0M350.8 150.3h0M353.8 150.8h0M353.2 150.4h0M354.1 150.3h0M357.3 150.3h0M357.2 150.0h0M359.8 150.7h0M363.0 150.5h0M366.5 150.3h0M371.1 150.2h0M375.0 150.8h0M379.1 150.4h0M388.6 150.9h0M393.2 150.1h0M394.4 150.2h0M394.2 150.1h0M401.3 150.6h0M402.6 150.1h0M416.5 150.8h0M417.8 150.7h0M345.9 151.6h0M346.1 151.7h0M347.8 151.5h0M350.3 151.8h0M353.6 151.3h0M354.4 151.6h0M357.7 151.1h0M358.7 151.3h0M360.1 151.0h0M360.1 151.4h0M360.7 151.8h0M361.2 151.9h0M362.7 151.9h0M362.5 151.7h0M373.2 151.9h0M381.8 151.2h0M382.4 151.2h0M383.7 151.7h0M385.1 151.1h0M386.2 151.6h0M387.0 151.1h0M391.3 151.5h0M392.8 151.5h0M394.0 152.0h0M396.9 151.3h0M401.5 151.7h0M402.8 151.4h0M422.4 151.8h0M423.9 151.9h0M425.7 151.3h0M426.7 151.9h0M328.4 152.9h0M335.6 152.6h0M337.4 152.0h0M340.4 153.0h0M347.6 152.7h0M350.7 152.4h0M351.2 152.8h0M354.5 152.5h0M355.7 152.1h0M355.1 152.3h0M356.2 153.0h0M356.7 152.4h0M357.4 152.7h0M358.8 152.6h0M359.7 152.1h0M359.9 152.5h0M363.5 152.6h0M366.8 152.5h0M369.8 152.5h0M370.1 152.7h0M371.6 152.1h0M372.4 152.5h0M372.9 153.0h0M374.6 152.7h0M376.7 152.9h0M380.9 152.8h0M381.6 152.4h0M381.1 152.5h0M384.2 152.5h0M385.6 152.2h0M394.4 152.8h0M394.2 152.3h0M397.3 152.7h0M397.9 152.1h0M402.5 152.8h0M407.2 152.1h0M409.8 152.2h0M410.9 152.5h0M410.0 152.6h0M412.5 152.4h0M413.4 152.4h0M418.8 152.7h0M335.4 153.0h0M337.5 153.6h0M338.4 153.8h0M338.2 153.5h0M343.2 153.9h0M347.4 153.5h0M351.8 153.3h0M354.1 153.6h0M354.8 153.4h0M355.0 153.5h0M358.8 153.5h0M360.3 153.2h0M362.6 153.0h0M362.4 153.5h0M362.8 153.6h0M363.3 153.8h0M363.6 153.6h0M364.3 153.6h0M364.8 153.6h0M365.5 153.8h0M366.0 153.6h0M377.9 153.8h0M379.2 153.9h0M380.3 153.5h0M381.6 153.3h0M388.6 153.6h0M392.6 153.4h0M393.1 153.6h0M395.5 154.0h0M395.0 153.6h0M407.8 153.9h0M410.1 153.8h0M411.3 153.0h0M418.9 153.7h0M418.4 153.1h0M426.6 153.9h0M330.4 154.6h0M332.0 154.6h0M333.7 154.3h0M336.6 154.2h0M338.4 155.0h0M341.8 154.3h0M342.4 154.2h0M346.9 154.6h0M351.2 154.7h0M351.1 154.9h0M351.4 154.2h0M354.5 154.0h0M358.1 154.2h0M358.3 154.4h0M362.9 154.6h0M363.6 155.0h0M364.8 154.4h0M372.7 154.7h0M375.4 154.8h0M375.8 154.3h0M376.2 154.9h0M376.7 154.8h0M378.6 154.8h0M380.4 154.0h0M381.3 154.5h0M382.7 154.4h0M384.5 154.1h0M385.8 154.9h0M387.7 154.8h0M391.3 155.0h0M392.9 154.8h0M394.8 154.5h0M399.1 154.8h0M410.5 154.0h0M410.2 154.9h0M410.3 154.9h0M412.6 154.1h0M426.4 154.3h0M427.4 154.5h0M427.8 154.2h0M430.3 154.9h0M333.9 155.4h0M333.2 155.4h0M338.7 155.8h0M343.4 155.0h0M346.1 155.3h0M348.2 155.5h0M349.1 155.7h0M352.2 155.0h0M354.4 155.2h0M355.8 155.0h0M357.2 155.3h0M358.3 155.3h0M359.0 155.6h0M361.5 155.8h0M362.2 155.6h0M363.1 155.3h0M365.7 155.2h0M366.9 155.9h0M371.4 155.7h0M371.7 155.3h0M373.3 155.6h0M375.9 155.2h0M377.9 155.7h0M379.6 155.2h0M383.5 155.9h0M385.1 155.3h0M387.9 155.4h0M394.4 155.5h0M394.3 155.5h0M395.9 155.9h0M396.8 155.1h0M396.5 155.1h0M398.7 155.4h0M409.2 155.3h0M411.8 155.2h0M413.8 155.1h0M415.6 155.1h0M420.8 155.2h0M421.4 155.0h0M424.3 155.2h0M426.5 155.0h0M427.2 155.8h0M333.4 156.8h0M336.5 156.2h0M343.2 156.4h0M343.8 156.8h0M343.2 156.5h0M344.7 156.7h0M351.4 157.0h0M352.3 156.9h0M352.7 156.4h0M353.5 156.5h0M358.3 156.1h0M362.2 156.5h0M363.0 156.3h0M365.4 156.6h0M365.7 156.0h0M366.7 156.9h0M382.2 156.4h0M383.7 156.2h0M387.5 156.8h0M392.0 156.2h0M392.8 156.4h0M398.9 156.6h0M400.9 156.8h0M403.6 156.2h0M410.2 156.1h0M428.1 157.0h0M334.6 157.3h0M339.3 157.4h0M339.1 157.7h0M340.4 157.1h0M341.2 157.5h0M342.3 158.0h0M345.8 157.9h0M345.4 157.8h0M349.4 157.0h0M359.6 157.1h0M362.7 157.1h0M375.2 157.5h0M375.1 157.9h0M377.7 157.4h0M377.2 157.6h0M378.9 157.8h0M379.7 157.8h0M381.0 157.5h0M383.0 157.7h0M382.2 157.5h0M388.3 157.3h0M391.3 157.0h0M396.1 157.4h0M396.5 157.8h0M399.1 158.0h0M404.4 157.7h0M404.8 158.0h0M405.3 158.0h0M407.8 157.4h0M410.3 157.9h0M411.7 157.4h0M414.9 157.1h0M422.5 157.1h0M433.9 157.1h0M438.0 157.4h0M444.0 157.9h0M335.0 158.1h0M339.6 158.3h0M340.7 158.9h0M340.4 158.9h0M343.6 158.5h0M346.8 158.0h0M379.0 158.2h0M379.3 158.9h0M381.2 158.5h0M382.6 158.8h0M383.5 158.6h0M384.5 158.0h0M387.8 158.7h0M389.9 158.8h0M394.9 158.6h0M395.9 158.3h0M400.8 158.9h0M403.9 158.5h0M406.0 158.9h0M405.9 158.1h0M407.1 159.0h0M407.1 159.0h0M407.2 158.2h0M408.1 158.2h0M410.1 158.6h0M417.5 158.6h0M430.0 158.3h0M433.3 158.1h0M436.9 158.4h0M331.8 159.2h0M336.6 159.6h0M380.1 159.3h0M382.2 159.0h0M382.7 159.8h0M384.2 159.0h0M384.2 159.7h0M384.6 159.7h0M386.5 159.3h0M386.3 159.0h0M386.7 159.6h0M388.3 159.1h0M391.5 159.9h0M394.4 159.4h0M395.2 159.1h0M396.5 159.1h0M400.7 159.1h0M400.1 159.3h0M403.3 159.7h0M405.2 159.8h0M405.8 159.3h0M408.4 159.6h0M415.0 159.2h0M416.1 159.3h0M417.0 159.2h0M417.4 159.4h0M418.9 159.8h0M419.7 159.8h0M331.3 160.6h0M332.1 160.7h0M334.1 160.6h0M334.0 160.6h0M335.9 160.9h0M335.1 160.9h0M336.4 160.4h0M338.7 160.1h0M338.4 160.5h0M384.8 160.1h0M384.4 160.9h0M386.5 161.0h0M389.7 160.7h0M390.7 160.4h0M393.9 160.5h0M407.4 160.4h0M410.9 160.0h0M426.7 160.9h0M430.3 161.0h0M431.3 160.6h0M442.7 160.6h0M335.7 161.8h0M337.1 161.5h0M384.0 161.1h0M385.5 161.3h0M386.1 161.8h0M387.4 161.8h0M387.1 161.4h0M390.2 161.2h0M393.6 161.6h0M394.2 161.9h0M399.7 161.9h0M408.3 161.3h0M414.9 161.2h0M330.0 162.4h0M335.6 162.2h0M337.5 162.4h0M337.5 162.1h0M386.1 162.1h0M386.2 162.1h0M388.7 162.5h0M389.3 162.2h0M392.1 162.9h0M395.8 162.6h0M396.3 162.0h0M399.1 162.5h0M400.8 162.4h0M402.9 162.9h0M402.3 162.4h0M413.9 162.6h0M416.5 162.0h0M418.4 162.5h0M418.2 162.6h0M424.3 162.5h0M437.7 162.5h0M327.4 163.5h0M333.5 163.4h0M334.7 163.9h0M335.7 163.1h0M336.0 163.8h0M336.7 163.5h0M390.7 163.2h0M395.5 163.4h0M397.5 163.3h0M398.8 163.3h0M398.8 163.7h0M400.6 163.5h0M401.7 163.3h0M410.8 163.7h0M411.3 163.7h0M412.3 163.9h0M413.8 163.8h0M415.7 163.6h0M415.8 163.1h0M422.0 163.2h0M332.0 164.3h0M333.4 164.5h0M333.2 164.8h0M334.3 164.5h0M334.9 164.6h0M335.3 164.9h0M389.2 164.9h0M390.8 164.3h0M390.3 164.7h0M393.6 164.1h0M394.6 164.6h0M395.5 164.1h0M397.3 165.0h0M399.2 165.0h0M402.7 164.0h0M402.4 164.6h0M405.4 165.0h0M411.8 164.5h0M440.3 164.1h0M451.8 164.5h0M332.9 165.6h0M334.0 165.9h0M333.2 165.7h0M334.0 165.6h0M389.3 165.7h0M393.3 165.6h0M396.1 165.6h0M397.1 165.6h0M398.2 165.3h0M399.2 165.1h0M399.9 166.0h0M400.5 165.4h0M403.5 165.7h0M404.3 165.6h0M406.8 165.8h0M409.4 166.0h0M411.8 165.2h0M412.5 165.4h0M412.3 165.3h0M416.9 165.7h0M419.8 165.8h0M331.0 166.9h0M332.3 166.8h0M333.7 166.7h0M334.5 166.6h0M391.3 166.5h0M392.0 167.0h0M395.4 166.3h0M396.5 166.7h0M400.9 166.8h0M402.8 166.1h0M409.6 167.0h0M412.3 166.1h0M429.6 166.4h0M434.5 166.7h0M437.3 166.2h0M441.1 166.3h0M444.9 166.9h0M447.9 167.0h0M330.6 167.9h0M332.4 167.1h0M333.5 167.3h0M393.6 167.8h0M396.3 168.0h0M397.2 167.0h0M399.9 167.8h0M400.8 167.9h0M401.5 167.3h0M404.7 167.6h0M406.9 167.2h0M407.6 167.3h0M411.7 167.9h0M418.0 167.1h0M421.1 167.0h0M328.5 168.9h0M394.5 168.0h0M398.7 168.9h0M403.2 168.9h0M404.1 168.0h0M404.5 168.9h0M409.2 168.9h0M414.3 168.2h0M430.2 168.5h0M432.9 168.8h0M432.4 168.1h0M444.6 168.7h0M330.4 169.1h0M397.4 169.2h0M400.8 169.2h0M400.4 169.8h0M402.0 169.5h0M402.8 169.5h0M402.1 169.5h0M405.7 169.9h0M405.8 169.3h0M409.9 169.9h0M434.5 169.1h0M436.0 169.1h0M439.1 170.0h0M326.1 170.6h0M327.0 170.2h0M328.2 170.5h0M330.5 170.9h0M398.9 170.7h0M400.8 170.1h0M400.8 170.3h0M401.7 170.9h0M401.2 170.0h0M402.6 170.1h0M403.4 170.8h0M403.8 170.9h0M405.8 170.8h0M407.0 170.1h0M409.2 170.5h0M409.1 170.6h0M410.2 170.0h0M425.5 170.6h0M431.9 170.2h0M441.9 170.7h0M452.2 170.7h0M400.3 171.7h0M401.5 171.5h0M402.4 171.1h0M404.5 171.6h0M408.0 171.4h0M408.2 171.1h0M411.3 171.6h0M414.1 171.7h0M417.2 171.5h0M425.3 171.6h0M426.0 171.2h0M434.4 171.1h0M456.4 171.1h0M328.2 172.7h0M331.6 172.8h0M331.7 173.0h0M399.5 172.2h0M400.1 172.8h0M401.7 172.9h0M406.8 172.7h0M407.3 172.9h0M413.2 172.8h0M416.6 172.8h0M422.5 172.2h0M438.3 172.4h0M441.1 172.0h0M326.4 173.3h0M328.2 173.5h0M401.7 173.4h0M404.9 173.8h0M405.2 173.1h0M407.7 173.2h0M408.4 173.6h0M412.7 173.2h0M428.5 173.6h0M437.3 173.0h0M457.6 173.2h0M328.8 174.9h0M329.6 174.4h0M329.9 174.0h0M329.9 174.2h0M331.6 174.6h0M331.2 174.6h0M400.6 174.7h0M400.7 174.9h0M402.6 174.4h0M404.8 174.6h0M407.9 174.9h0M408.9 175.0h0M415.6 174.0h0M415.6 174.4h0M429.1 174.4h0M433.4 174.8h0M452.9 174.9h0M329.7 175.6h0M329.3 175.7h0M330.1 175.1h0M401.8 175.4h0M402.5 175.1h0M402.7 175.4h0M403.8 175.3h0M406.5 175.0h0M409.2 175.8h0M410.2 175.5h0M415.0 175.6h0M431.1 175.4h0M432.9 175.7h0M444.9 175.2h0M329.2 176.5h0M330.5 176.4h0M330.9 177.0h0M404.1 176.7h0M406.9 176.8h0M406.4 176.0h0M407.2 176.8h0M414.0 176.1h0M429.3 176.4h0M459.4 176.8h0M329.7 177.8h0M330.1 177.4h0M402.8 177.1h0M404.4 177.1h0M405.7 177.2h0M411.3 177.7h0M411.4 177.1h0M413.5 177.4h0M418.0 177.8h0M434.0 177.3h0M438.7 177.9h0M439.7 177.3h0M327.5 178.1h0M328.3 178.6h0M403.3 178.4h0M403.6 178.1h0M403.4 178.9h0M406.4 178.6h0M406.4 178.9h0M410.5 178.9h0M412.6 178.8h0M413.3 178.5h0M415.9 178.1h0M419.6 178.6h0M423.7 178.6h0M429.0 178.5h0M434.0 178.6h0M329.0 180.0h0M329.3 179.9h0M403.2 179.3h0M404.1 179.2h0M404.1 179.7h0M405.0 179.8h0M405.7 179.4h0M407.0 179.6h0M407.7 179.1h0M407.3 179.2h0M409.9 179.9h0M410.6 179.3h0M410.4 179.2h0M413.9 179.9h0M415.3 179.4h0M418.9 179.6h0M426.9 179.7h0M446.6 179.2h0M453.0 179.6h0M330.3 181.0h0M402.8 180.5h0M402.3 180.4h0M404.2 180.6h0M404.6 180.6h0M405.2 180.3h0M411.3 180.5h0M411.8 180.6h0M420.5 180.2h0M434.9 181.0h0M437.3 181.0h0M438.7 180.3h0M445.4 180.7h0M329.4 181.0h0M329.7 181.0h0M401.4 181.9h0M403.5 181.7h0M404.5 181.9h0M406.3 181.0h0M411.5 181.1h0M411.5 181.0h0M415.2 181.7h0M426.5 181.9h0M432.5 181.6h0M436.5 181.6h0M447.1 181.6h0M447.6 181.9h0M448.9 181.7h0M328.0 182.2h0M327.7 182.9h0M329.9 182.6h0M404.0 182.7h0M404.0 182.7h0M404.7 182.1h0M404.7 182.2h0M405.1 182.5h0M405.2 182.4h0M410.2 182.3h0M421.9 182.6h0M431.2 182.8h0M437.9 182.6h0M443.9 182.0h0M447.0 182.5h0M400.1 183.6h0M401.8 183.8h0M401.2 183.5h0M402.5 183.2h0M405.4 183.1h0M406.5 183.5h0M413.3 183.9h0M421.7 183.6h0M433.7 183.4h0M441.6 183.5h0M447.6 183.4h0M463.4 183.7h0M328.2 184.6h0M399.7 184.3h0M403.9 184.1h0M405.6 184.4h0M413.5 184.1h0M452.2 184.4h0M329.1 185.7h0M398.6 185.8h0M399.6 185.0h0M400.7 185.5h0M401.8 185.4h0M421.3 185.3h0M426.9 185.4h0M444.1 185.9h0M449.9 185.5h0M401.4 186.9h0M403.2 186.2h0M404.4 186.5h0M405.1 186.9h0M409.9 186.5h0M411.9 187.0h0M415.1 186.2h0M419.2 186.6h0M420.2 186.2h0M422.3 186.6h0M438.6 186.4h0M448.0 186.8h0M454.3 186.3h0M455.3 186.0h0M325.7 187.5h0M327.5 187.9h0M328.8 187.2h0M397.8 187.3h0M401.1 187.9h0M401.2 187.9h0M407.1 187.6h0M411.7 187.6h0M414.5 187.8h0M433.6 187.8h0M434.3 188.0h0M434.8 187.2h0M444.8 187.5h0M326.4 188.7h0M329.3 188.1h0M329.2 188.5h0M398.7 188.6h0M400.3 188.3h0M401.1 188.9h0M401.7 188.1h0M401.3 188.8h0M423.3 188.3h0M443.5 188.6h0M449.1 188.5h0M450.1 188.4h0M326.4 189.5h0M326.6 189.3h0M395.9 189.2h0M396.8 189.8h0M396.9 189.1h0M399.0 189.9h0M399.3 189.6h0M403.5 189.4h0M403.2 189.8h0M405.1 189.4h0M426.1 190.0h0M439.0 189.1h0M440.6 189.3h0M442.6 189.8h0M445.1 189.4h0M328.9 190.5h0M395.0 190.8h0M396.2 190.3h0M397.6 190.3h0M397.1 190.2h0M400.0 190.3h0M415.2 190.6h0M416.8 190.1h0M417.8 190.8h0M432.9 190.6h0M456.5 190.9h0M329.8 191.8h0M402.2 191.3h0M407.6 191.2h0M420.0 191.3h0M424.2 191.3h0M425.6 191.9h0M328.5 192.2h0M392.1 192.9h0M392.9 192.6h0M399.0 192.2h0M401.8 192.3h0M402.0 192.9h0M402.5 192.5h0M404.6 192.5h0M407.3 192.9h0M431.0 192.5h0M432.9 192.5h0M433.2 192.3h0M448.2 193.0h0M322.0 193.5h0M392.4 193.3h0M394.0 193.8h0M396.3 193.7h0M398.8 193.2h0M400.0 193.3h0M400.9 193.2h0M402.5 193.8h0M403.9 193.2h0M407.0 193.1h0M418.3 193.3h0M425.8 193.0h0M329.3 194.7h0M329.1 194.9h0M391.8 194.1h0M392.7 194.1h0M393.5 194.3h0M397.8 195.0h0M401.3 194.7h0M416.6 194.3h0M418.4 194.5h0M423.7 194.6h0M426.6 194.7h0M431.6 194.8h0M438.8 194.6h0M323.2 195.8h0M329.5 195.5h0M389.5 195.4h0M391.0 195.1h0M390.1 195.4h0M391.9 195.5h0M393.4 195.7h0M394.5 196.0h0M398.6 195.2h0M418.4 195.1h0M421.9 195.1h0M387.8 196.5h0M389.8 196.6h0M390.1 196.3h0M392.4 196.7h0M399.3 196.1h0M399.6 196.5h0M400.6 196.3h0M401.9 196.7h0M403.8 196.4h0M411.1 196.7h0M420.8 196.6h0M426.2 196.7h0M456.1 196.0h0M326.1 197.0h0M394.4 197.1h0M395.6 197.9h0M395.9 197.4h0M408.8 197.4h0M418.9 197.3h0M433.0 197.1h0M329.0 198.0h0M387.2 198.1h0M387.9 198.6h0M388.8 198.0h0M391.3 198.5h0M397.5 198.1h0M397.3 198.6h0M399.5 198.0h0M401.7 198.2h0M408.4 198.9h0M430.0 198.9h0M385.8 199.9h0M386.7 199.3h0M389.6 199.6h0M390.8 199.8h0M394.3 199.4h0M394.0 199.2h0M419.7 199.0h0M420.5 199.8h0M325.0 200.0h0M326.3 200.9h0M385.0 200.4h0M385.5 200.5h0M386.1 200.8h0M387.6 200.6h0M388.4 200.7h0M388.3 200.0h0M389.1 200.9h0M392.2 200.7h0M397.0 200.6h0M400.6 200.4h0M406.1 200.6h0M430.9 200.2h0M326.7 201.1h0M328.3 201.5h0M328.2 201.7h0M328.2 201.9h0M382.9 202.0h0M387.6 201.2h0M389.9 201.0h0M390.2 201.3h0M394.0 201.7h0M398.1 201.7h0M400.7 201.2h0M403.2 201.6h0M412.4 201.9h0M415.1 201.6h0M423.8 201.1h0M427.6 201.2h0M328.9 202.4h0M329.0 202.8h0M383.0 202.9h0M383.9 202.5h0M387.1 202.2h0M389.1 202.1h0M389.7 202.3h0M391.1 202.1h0M391.0 202.5h0M391.1 202.7h0M399.3 202.2h0M326.6 203.2h0M326.8 203.1h0M326.7 203.5h0M328.7 203.1h0M382.8 203.6h0M383.6 203.5h0M384.8 203.1h0M395.9 203.4h0M398.2 203.3h0M433.6 203.1h0M326.3 205.0h0M327.9 204.2h0M327.4 204.4h0M329.5 204.7h0M378.7 204.7h0M378.3 205.0h0M378.3 204.9h0M379.8 204.7h0M380.3 204.7h0M381.4 204.0h0M382.5 204.4h0M384.4 204.4h0M384.5 204.9h0M385.2 204.3h0M387.8 204.6h0M390.3 205.0h0M397.9 205.0h0M413.7 204.8h0M326.8 205.7h0M328.7 205.6h0M378.9 205.8h0M380.8 205.6h0M389.6 205.5h0M398.0 205.1h0M406.3 205.9h0M427.6 205.3h0M433.8 205.7h0M327.2 206.6h0M327.4 206.8h0M376.6 206.2h0M379.0 206.2h0M379.8 206.6h0M379.2 206.9h0M380.3 206.6h0M383.5 206.1h0M391.9 206.8h0M411.8 206.4h0M433.9 206.1h0M328.0 208.0h0M374.4 207.9h0M381.3 207.8h0M396.6 207.2h0M397.1 207.8h0M403.9 207.1h0M404.3 207.6h0M328.7 208.7h0M328.7 208.9h0M330.0 208.4h0M379.5 208.8h0M381.3 208.5h0M387.8 208.6h0M389.6 208.8h0M390.7 208.1h0M390.7 208.4h0M393.4 208.8h0M396.6 208.9h0M410.2 208.4h0M416.3 208.8h0M330.1 209.7h0M372.2 209.3h0M372.2 209.4h0M373.7 209.5h0M376.6 209.4h0M377.3 209.4h0M379.0 209.9h0M384.1 209.3h0M395.7 209.5h0M328.0 210.7h0M327.7 210.2h0M372.6 210.3h0M373.0 210.4h0M373.1 210.6h0M374.9 211.0h0M376.4 210.8h0M376.3 210.1h0M377.7 210.9h0M379.7 210.2h0M381.0 210.4h0M387.6 210.1h0M394.4 210.5h0M413.3 210.5h0M417.9 210.3h0M373.2 211.5h0M376.8 211.4h0M380.8 211.5h0M387.9 211.5h0M390.7 211.3h0M327.6 212.7h0M328.1 212.7h0M328.3 212.4h0M329.6 213.0h0M373.3 212.4h0M373.5 212.7h0M376.2 212.7h0M376.5 212.9h0M378.5 212.6h0M381.2 212.0h0M383.9 212.6h0M389.6 212.2h0M402.9 212.6h0M421.0 212.9h0M367.8 213.5h0M367.8 213.2h0M369.5 213.2h0M375.8 213.6h0M376.0 213.3h0M376.2 213.9h0M377.8 214.0h0M377.4 213.2h0M378.4 213.8h0M392.5 213.6h0M398.4 213.0h0M401.7 213.9h0M329.0 214.0h0M329.7 214.9h0M365.2 215.0h0M367.0 214.7h0M366.6 214.1h0M367.6 214.4h0M368.0 214.8h0M371.8 214.9h0M373.1 214.6h0M374.9 214.4h0M325.5 215.4h0M365.1 215.7h0M366.4 215.0h0M366.4 215.7h0M367.6 215.3h0M367.0 215.9h0M368.8 215.7h0M369.5 215.7h0M369.4 215.1h0M371.3 215.6h0M371.3 216.0h0M372.1 215.3h0M373.8 215.3h0M374.0 215.1h0M375.1 215.3h0M379.4 215.3h0M381.8 215.7h0M391.0 215.7h0M362.9 216.8h0M363.2 216.4h0M365.1 216.2h0M367.7 216.5h0M371.0 216.9h0M376.5 216.2h0M378.4 216.5h0M381.8 216.4h0M381.7 216.1h0M383.6 216.4h0M383.5 216.5h0M407.6 216.2h0M324.1 217.8h0M364.9 217.0h0M369.9 217.6h0M369.1 217.5h0M389.5 218.0h0M351.6 219.0h0M356.7 218.5h0M365.9 218.0h0M365.0 218.8h0M368.3 218.2h0M369.6 218.9h0M379.4 218.8h0M382.3 218.2h0M327.7 219.8h0M329.9 219.1h0M342.6 219.7h0M343.6 219.7h0M344.8 219.9h0M349.3 219.4h0M349.6 219.3h0M350.9 219.8h0M350.6 219.8h0M351.3 219.8h0M351.5 219.0h0M353.0 219.7h0M356.3 219.6h0M357.3 219.9h0M360.7 219.1h0M360.5 219.6h0M361.1 219.9h0M362.4 219.2h0M363.7 219.7h0M367.9 219.1h0M368.5 219.2h0M368.4 219.2h0M368.8 219.6h0M370.2 219.7h0M370.6 220.0h0M371.1 219.1h0M375.7 219.7h0M378.3 219.3h0M378.6 220.0h0M330.5 220.1h0M335.4 220.5h0M336.3 220.1h0M340.2 220.8h0M342.4 220.6h0M345.0 220.6h0M345.1 220.3h0M347.0 220.5h0M349.0 220.3h0M350.2 220.9h0M350.1 220.2h0M350.1 220.6h0M357.0 220.4h0M356.6 220.9h0M362.3 220.8h0M363.5 220.3h0M364.8 220.0h0M366.3 220.6h0M369.3 220.9h0M385.1 221.0h0M326.7 221.6h0M327.7 221.2h0M330.6 222.0h0M334.3 221.3h0M338.1 221.4h0M340.9 221.9h0M348.2 221.7h0M352.5 221.3h0M354.2 221.7h0M356.9 221.9h0M356.4 221.2h0M357.7 221.4h0M366.3 222.0h0M368.1 222.0h0M368.5 221.2h0M370.7 221.2h0M371.3 221.8h0M372.5 221.3h0M381.4 221.8h0M326.9 222.1h0M335.7 222.5h0M339.9 222.5h0M340.0 222.6h0M343.7 222.6h0M346.7 222.2h0M347.2 222.8h0M349.5 222.7h0M350.1 222.4h0M364.5 222.6h0M366.4 222.4h0M375.9 222.2h0M378.9 222.8h0M398.0 222.0h0M327.7 223.2h0M341.5 223.5h0M341.7 223.2h0M345.9 223.7h0M347.4 224.0h0M354.2 223.1h0M358.8 223.8h0M358.5 223.4h0M360.5 223.2h0M366.0 223.8h0M379.5 223.4h0M387.1 223.6h0M332.6 224.4h0M334.5 224.3h0M339.2 224.5h0M348.0 224.8h0M352.4 224.3h0M374.3 224.3h0M345.3 226.0h0M342.5 227.8h0M384.1 227.5h0M350.6 48.2h0M365.3 65.9h0M364.3 73.1h0M365.3 78.9h0M347.9 79.9h0M360.3 86.3h0M367.3 85.8h0M376.0 86.3h0M344.9 91.1h0M362.3 92.3h0M366.6 91.8h0M354.9 94.8h0M357.3 93.5h0M383.5 91.1h0M384.7 89.8h0M348.6 97.3h0M352.4 99.8h0M351.1 98.5h0M376.0 98.0h0M369.8 100.5h0M385.5 101.8h0M368.0 103.5h0M357.3 105.3h0M360.3 104.3h0M491.1 199.1h0M487.1 205.1h0M488.1 210.1h0M492.1 218.7h0M476.7 198.1h0M475.7 200.5h0M473.7 203.1h0M469.7 204.5h0M471.1 211.5h0M476.7 216.1h0M453.1 203.1h0M455.7 203.1h0M432.0 213.7h0M429.6 216.5h0M435.0 218.1h0M441.0 199.1h0M470.1 189.0h0M463.1 189.0h0M466.1 185.0h0M436.2 146.3h0M429.9 154.7h0M445.4 161.1h0M382.4 221.8h0M386.9 219.2h0M395.8 221.0h0M400.3 216.5h0M408.3 212.9h0M411.9 207.5h0M415.5 209.3h0M419.0 210.2h0M429.8 215.6h0M435.2 218.3h0M404.8 204.8h0" fill="none" stroke="#000" stroke-width="3.1" stroke-linecap="round"/>
<path d="M324.9 199.2 L492.0 145.2" stroke="#c8c8c8" stroke-width="2.0" opacity="0.25" fill="none"/>
<path d="M324.9 199.2 L492.0 145.2" stroke="#ababab" stroke-width="1.0" fill="none"/>
<path d="M592.0 220.0 L590.0 195.0 L591.0 176.0 L593.0 165.0 L602.0 157.0 L615.0 154.0 L630.0 155.0 L638.0 166.0 L641.0 180.0 L636.0 195.0 L626.0 207.0 L612.0 217.0 L600.0 221.0 Z" fill="#000"/>
<path d="M633.9 99.1h0M640.6 100.1h0M625.4 104.0h0M609.9 104.1h0M617.0 104.6h0M641.9 104.5h0M615.9 106.8h0M631.4 106.7h0M621.3 108.1h0M639.2 108.9h0M616.0 109.6h0M618.4 111.4h0M633.0 111.6h0M625.8 112.7h0M630.6 112.9h0M639.4 112.3h0M629.1 113.6h0M630.6 113.8h0M643.5 113.4h0M648.4 114.2h0M642.2 115.3h0M646.0 115.6h0M647.5 115.7h0M615.8 116.3h0M617.8 116.2h0M625.7 116.7h0M634.7 116.2h0M639.3 116.9h0M620.0 117.1h0M632.0 117.0h0M632.7 118.3h0M626.4 120.8h0M634.3 120.1h0M639.5 121.0h0M651.7 120.9h0M628.2 121.4h0M630.6 121.4h0M644.3 121.7h0M647.1 121.0h0M650.4 121.2h0M616.2 122.3h0M624.7 122.1h0M640.2 122.3h0M647.2 122.2h0M607.3 123.8h0M622.9 123.8h0M624.5 123.1h0M629.9 123.3h0M641.2 123.8h0M646.6 123.4h0M648.6 124.0h0M610.5 124.4h0M634.8 124.5h0M641.6 124.8h0M604.8 125.3h0M634.9 126.0h0M637.3 125.5h0M646.7 125.8h0M648.2 125.9h0M649.8 125.2h0M655.9 125.5h0M607.3 126.4h0M626.3 126.8h0M622.3 127.8h0M623.0 127.8h0M630.0 128.0h0M636.4 127.0h0M653.2 127.9h0M601.7 128.7h0M638.7 128.5h0M641.6 128.0h0M649.3 128.8h0M599.8 129.4h0M599.4 129.4h0M624.5 129.2h0M627.7 129.8h0M650.1 129.6h0M655.6 129.7h0M643.8 130.2h0M646.1 130.4h0M654.6 130.1h0M601.1 131.2h0M616.0 131.1h0M621.6 131.1h0M624.3 131.7h0M627.7 131.9h0M637.6 131.8h0M658.9 131.2h0M660.1 131.7h0M597.6 132.8h0M606.3 132.3h0M614.5 132.8h0M631.1 132.9h0M650.0 132.3h0M657.6 132.7h0M604.4 133.8h0M618.7 133.5h0M635.9 133.8h0M636.3 133.9h0M646.7 133.9h0M604.3 134.5h0M606.4 134.7h0M617.8 134.9h0M625.6 134.1h0M631.7 134.2h0M638.8 134.3h0M640.2 134.3h0M652.0 134.6h0M657.1 134.8h0M597.9 136.0h0M631.5 135.8h0M656.2 135.4h0M597.4 136.4h0M601.8 136.6h0M605.8 136.5h0M608.9 136.8h0M613.3 136.8h0M614.4 136.8h0M619.5 136.8h0M621.9 136.2h0M632.9 136.8h0M654.1 136.6h0M598.9 137.9h0M598.9 137.9h0M629.8 137.2h0M635.1 137.9h0M636.1 138.0h0M638.1 137.7h0M642.5 137.7h0M649.6 138.2h0M653.2 138.0h0M618.3 139.1h0M621.8 139.9h0M627.4 139.0h0M632.3 139.4h0M635.7 139.2h0M647.4 139.0h0M659.0 139.1h0M603.1 140.5h0M610.6 140.6h0M615.5 140.8h0M622.1 140.5h0M628.7 140.4h0M646.4 141.0h0M602.5 141.6h0M607.2 141.3h0M615.8 141.6h0M616.0 141.5h0M616.5 141.7h0M618.8 141.3h0M624.1 141.1h0M627.1 142.0h0M635.8 141.8h0M648.5 141.7h0M653.3 141.1h0M663.8 141.8h0M599.8 142.8h0M609.6 142.2h0M611.7 142.3h0M626.7 142.2h0M630.4 142.4h0M643.3 142.4h0M649.8 142.5h0M653.4 142.9h0M656.0 142.7h0M656.9 142.7h0M605.3 143.4h0M606.3 143.6h0M606.8 143.3h0M608.2 143.0h0M609.9 143.2h0M611.9 143.6h0M618.0 143.8h0M619.7 143.5h0M628.8 143.4h0M634.5 143.7h0M635.2 143.9h0M641.6 143.9h0M642.6 143.7h0M602.5 144.1h0M604.4 144.4h0M606.2 144.4h0M607.8 145.0h0M618.9 144.4h0M623.8 144.5h0M623.5 145.0h0M628.4 144.7h0M635.5 144.0h0M649.7 144.5h0M652.2 144.8h0M655.0 145.0h0M599.9 145.6h0M608.0 145.6h0M610.0 145.6h0M617.9 145.4h0M619.3 145.3h0M627.0 145.9h0M637.2 145.2h0M639.1 145.2h0M653.8 145.2h0M594.2 146.1h0M595.5 146.9h0M600.2 147.0h0M606.6 146.4h0M607.0 146.4h0M612.9 146.2h0M616.1 146.5h0M616.6 146.9h0M619.8 146.4h0M620.9 146.5h0M621.8 146.2h0M624.1 146.7h0M629.2 146.3h0M630.9 146.1h0M633.5 147.0h0M633.6 146.9h0M634.6 146.4h0M634.1 146.9h0M636.4 146.9h0M641.9 146.2h0M643.8 146.5h0M644.7 146.4h0M649.7 146.9h0M603.7 147.3h0M604.8 147.0h0M609.1 147.2h0M611.3 147.1h0M612.4 148.0h0M620.6 147.3h0M622.5 147.4h0M622.9 147.1h0M623.1 147.8h0M623.1 147.8h0M625.2 147.5h0M625.3 147.3h0M627.4 147.6h0M652.8 147.5h0M599.7 148.0h0M605.6 148.2h0M605.1 148.9h0M608.5 149.0h0M611.6 148.6h0M613.9 148.4h0M618.6 148.7h0M626.6 148.8h0M631.7 148.8h0M658.6 148.6h0M659.8 148.3h0M660.1 148.2h0M600.1 149.4h0M601.6 149.1h0M603.9 149.5h0M607.8 149.2h0M607.1 149.5h0M609.2 149.5h0M611.9 150.0h0M612.1 149.9h0M614.9 149.8h0M615.6 149.8h0M615.5 149.4h0M617.3 149.2h0M619.2 150.0h0M626.9 149.8h0M628.0 149.3h0M629.5 149.4h0M631.9 149.1h0M631.5 149.3h0M633.3 150.0h0M633.3 149.4h0M635.0 149.7h0M639.4 149.0h0M640.3 149.2h0M643.6 149.2h0M602.6 150.4h0M612.6 150.1h0M614.9 150.5h0M616.1 150.8h0M619.8 150.9h0M620.4 150.1h0M629.7 150.5h0M635.8 150.0h0M636.7 150.4h0M641.0 151.0h0M641.7 150.2h0M655.2 150.1h0M600.2 151.9h0M602.9 151.9h0M603.6 151.4h0M603.8 151.7h0M609.0 151.3h0M610.3 152.0h0M612.0 151.9h0M612.1 151.4h0M613.2 151.5h0M614.0 151.9h0M615.2 152.0h0M618.3 151.6h0M620.7 151.2h0M623.6 151.2h0M624.1 151.8h0M626.8 151.7h0M626.4 151.3h0M627.1 152.0h0M628.3 151.9h0M628.6 151.4h0M630.8 151.4h0M640.8 152.0h0M644.6 151.6h0M645.9 151.4h0M645.4 151.0h0M659.3 151.4h0M659.9 151.7h0M671.1 151.7h0M594.9 152.4h0M597.2 152.6h0M597.5 152.9h0M600.2 152.1h0M600.1 152.3h0M615.1 152.3h0M620.1 152.5h0M621.0 152.2h0M621.9 152.4h0M625.6 152.8h0M626.2 152.5h0M626.3 152.5h0M628.0 152.4h0M633.8 152.9h0M634.0 152.8h0M643.8 152.8h0M643.3 152.5h0M645.0 152.6h0M646.1 152.6h0M652.8 152.1h0M656.9 152.8h0M671.2 152.9h0M671.5 152.5h0M594.2 153.4h0M596.4 153.6h0M604.2 153.8h0M610.6 153.5h0M613.3 153.6h0M616.7 153.4h0M619.9 153.5h0M621.9 153.7h0M621.6 153.4h0M622.0 153.4h0M624.0 153.2h0M624.2 153.2h0M625.6 153.7h0M628.0 153.9h0M628.5 153.2h0M628.5 153.0h0M628.3 153.6h0M630.0 153.5h0M635.9 153.6h0M639.6 153.7h0M646.3 153.9h0M647.1 153.2h0M648.5 153.9h0M661.5 153.5h0M598.2 154.8h0M601.3 154.6h0M601.7 154.2h0M604.1 154.7h0M611.2 154.9h0M613.4 154.4h0M614.3 154.8h0M616.9 154.4h0M624.6 154.4h0M626.5 154.3h0M629.3 155.0h0M631.0 154.8h0M632.0 155.0h0M631.3 154.9h0M632.8 154.1h0M634.0 154.3h0M634.9 154.8h0M635.6 154.8h0M636.6 154.8h0M638.0 154.7h0M640.0 154.2h0M645.4 154.7h0M656.5 154.0h0M664.0 154.9h0M667.0 154.8h0M671.2 154.1h0M592.7 155.4h0M596.1 155.4h0M596.9 155.3h0M597.7 155.3h0M598.1 155.2h0M600.8 155.9h0M610.1 155.9h0M614.1 155.2h0M625.0 155.2h0M624.8 155.5h0M629.6 155.2h0M630.3 155.9h0M633.5 155.3h0M645.5 155.0h0M651.2 155.9h0M656.0 155.2h0M595.6 156.1h0M605.6 156.5h0M606.9 156.0h0M608.7 156.4h0M612.2 156.5h0M618.0 156.3h0M622.6 156.6h0M625.1 156.1h0M629.0 156.3h0M634.6 156.9h0M636.5 156.8h0M637.6 156.0h0M639.6 156.5h0M642.1 157.0h0M642.7 156.7h0M647.3 156.0h0M653.3 156.1h0M659.7 156.9h0M668.2 157.0h0M589.3 158.0h0M593.1 157.2h0M600.1 157.1h0M604.0 157.6h0M604.0 158.0h0M604.8 157.3h0M629.4 157.3h0M648.9 157.1h0M651.2 157.5h0M595.1 158.9h0M600.0 158.7h0M599.0 158.4h0M631.1 158.6h0M632.6 158.7h0M637.3 158.8h0M637.4 158.2h0M640.7 158.5h0M643.7 158.1h0M650.0 158.3h0M649.8 158.7h0M664.3 158.3h0M594.8 159.2h0M630.6 159.4h0M631.7 159.6h0M634.3 159.4h0M636.2 159.4h0M638.8 159.4h0M639.8 159.4h0M641.9 159.2h0M642.2 159.8h0M647.9 159.1h0M656.7 159.6h0M590.6 160.3h0M598.7 160.6h0M633.4 161.0h0M633.3 160.3h0M638.7 160.9h0M640.5 160.3h0M642.4 160.9h0M652.0 160.9h0M653.5 160.4h0M663.5 160.6h0M666.5 160.5h0M667.1 160.6h0M667.9 160.5h0M589.2 161.3h0M596.2 161.0h0M597.8 161.9h0M634.3 161.9h0M634.2 161.9h0M637.3 161.6h0M638.3 161.3h0M641.0 161.6h0M641.6 161.6h0M644.4 161.2h0M645.8 161.5h0M648.0 161.2h0M668.4 161.0h0M671.9 161.2h0M671.0 161.8h0M672.6 161.1h0M675.0 161.8h0M592.1 162.6h0M595.8 162.9h0M598.5 162.7h0M598.8 162.4h0M635.1 162.8h0M638.9 162.3h0M639.2 162.2h0M640.1 162.4h0M642.8 162.3h0M645.5 162.9h0M646.7 162.6h0M651.6 162.6h0M675.8 162.7h0M676.7 162.3h0M591.4 163.2h0M593.5 163.5h0M596.1 163.6h0M636.2 163.6h0M637.3 163.5h0M638.8 163.4h0M640.3 163.3h0M642.9 164.0h0M645.2 163.3h0M647.5 163.4h0M648.0 163.4h0M651.6 163.2h0M652.5 163.8h0M653.6 163.5h0M655.4 163.5h0M634.5 164.8h0M636.3 164.5h0M637.1 164.3h0M638.8 164.7h0M638.9 164.8h0M639.8 164.1h0M644.8 164.6h0M648.8 164.3h0M651.1 164.6h0M656.0 165.0h0M640.4 165.4h0M645.4 165.6h0M645.2 165.5h0M646.2 165.9h0M646.9 165.8h0M647.7 165.2h0M650.7 165.4h0M652.8 165.7h0M653.6 165.1h0M654.7 165.6h0M657.0 165.8h0M656.4 165.2h0M594.6 166.1h0M638.0 166.8h0M638.8 166.4h0M643.7 166.9h0M650.3 166.8h0M652.0 166.3h0M656.0 166.5h0M661.4 166.4h0M669.1 166.6h0M592.1 167.3h0M593.1 167.1h0M637.1 167.2h0M639.0 167.8h0M639.6 167.2h0M641.0 167.7h0M648.4 167.2h0M652.6 167.8h0M654.8 167.9h0M658.0 167.9h0M667.6 167.3h0M593.7 168.4h0M639.9 168.5h0M641.5 168.8h0M641.4 168.6h0M643.2 168.3h0M647.0 169.0h0M653.5 168.9h0M673.8 168.4h0M591.9 169.1h0M594.0 170.0h0M637.8 169.4h0M640.9 169.6h0M641.8 169.6h0M650.1 169.9h0M652.9 169.2h0M654.9 169.9h0M655.1 169.8h0M656.9 169.4h0M662.5 169.2h0M664.0 169.9h0M671.5 170.0h0M672.6 169.7h0M590.4 170.3h0M591.4 170.4h0M592.2 171.0h0M639.0 170.5h0M641.8 170.8h0M653.4 171.0h0M655.8 170.8h0M655.5 171.0h0M668.8 170.6h0M675.5 170.7h0M590.0 171.5h0M592.8 171.6h0M639.3 171.5h0M639.3 171.2h0M640.3 171.9h0M642.0 171.8h0M647.1 171.9h0M647.8 171.7h0M647.9 171.4h0M651.9 172.0h0M653.1 171.9h0M655.2 171.0h0M663.9 171.0h0M673.5 171.7h0M592.9 172.7h0M637.5 172.7h0M639.5 172.0h0M640.2 172.5h0M643.5 172.8h0M643.7 172.6h0M645.1 172.2h0M654.5 172.6h0M655.0 172.6h0M659.0 172.7h0M592.8 173.3h0M592.8 174.0h0M638.0 173.4h0M639.8 174.0h0M641.6 173.4h0M643.5 173.1h0M646.4 173.9h0M648.3 173.1h0M650.6 173.3h0M656.9 173.1h0M657.6 173.4h0M661.6 173.1h0M663.4 173.4h0M669.8 173.9h0M672.7 173.3h0M591.7 174.7h0M591.6 174.3h0M592.4 174.2h0M638.2 174.9h0M641.8 174.4h0M641.3 175.0h0M644.7 174.1h0M644.2 174.6h0M645.2 174.8h0M652.3 174.5h0M589.9 175.6h0M589.1 175.0h0M590.4 175.3h0M591.1 175.6h0M591.2 175.8h0M592.6 175.8h0M593.0 176.0h0M639.6 175.8h0M640.3 175.6h0M648.2 175.7h0M652.0 175.6h0M656.2 175.6h0M589.5 176.2h0M639.7 176.1h0M640.2 176.3h0M640.6 176.0h0M641.1 176.1h0M642.3 176.7h0M642.4 176.7h0M647.5 176.5h0M590.3 177.9h0M592.1 177.4h0M592.9 177.4h0M647.2 177.4h0M649.9 177.5h0M650.1 177.9h0M654.7 177.3h0M654.0 177.5h0M655.8 177.2h0M589.7 178.9h0M590.3 178.4h0M593.0 178.1h0M641.6 179.0h0M641.4 178.7h0M643.0 179.0h0M644.4 178.1h0M649.8 178.4h0M651.6 178.5h0M654.8 178.1h0M655.3 178.3h0M660.4 178.5h0M639.0 179.6h0M643.9 179.6h0M644.0 179.7h0M645.2 179.8h0M647.4 179.6h0M650.0 180.0h0M652.7 179.7h0M653.5 179.9h0M654.0 179.6h0M654.4 179.5h0M655.2 179.5h0M660.8 179.6h0M590.7 180.4h0M638.9 180.1h0M640.8 180.3h0M640.2 180.2h0M642.6 180.1h0M649.3 180.0h0M649.2 181.0h0M650.6 180.6h0M655.2 180.8h0M659.9 180.9h0M639.7 181.3h0M640.7 181.4h0M640.0 181.1h0M646.5 181.2h0M647.1 181.6h0M647.1 181.3h0M648.7 181.9h0M653.0 181.6h0M652.0 181.6h0M652.7 181.7h0M655.6 181.2h0M663.5 181.2h0M667.8 181.6h0M639.1 182.3h0M647.2 183.0h0M650.9 183.0h0M651.5 182.5h0M667.0 182.0h0M591.0 183.5h0M638.3 183.6h0M638.2 183.1h0M639.6 183.2h0M641.4 183.9h0M642.2 183.1h0M643.7 183.9h0M644.8 183.1h0M644.3 183.2h0M645.1 183.8h0M650.6 183.3h0M653.9 183.7h0M655.4 183.3h0M656.6 183.5h0M668.1 183.5h0M590.9 184.7h0M591.9 184.3h0M639.0 184.6h0M639.3 184.6h0M643.0 184.7h0M643.5 184.2h0M644.4 184.6h0M645.5 184.2h0M646.5 184.3h0M648.4 184.3h0M650.0 184.3h0M652.1 184.8h0M655.7 184.7h0M658.9 184.8h0M659.1 184.0h0M591.4 185.7h0M592.3 185.1h0M637.6 185.6h0M639.7 185.2h0M640.0 185.8h0M641.5 185.3h0M641.5 185.7h0M643.1 185.0h0M643.2 185.7h0M644.7 185.8h0M648.3 185.8h0M653.6 185.6h0M656.4 185.7h0M673.1 185.3h0M591.5 186.3h0M636.9 186.3h0M638.7 186.1h0M643.0 186.3h0M651.2 186.4h0M667.3 186.9h0M590.1 187.0h0M636.4 188.0h0M646.5 187.9h0M647.4 187.5h0M657.5 187.4h0M664.0 187.3h0M665.4 187.6h0M671.2 188.0h0M592.2 188.5h0M637.9 188.5h0M641.8 188.6h0M643.8 188.3h0M643.1 188.2h0M647.8 188.4h0M648.9 188.2h0M654.8 188.9h0M643.3 190.0h0M644.8 189.6h0M646.5 189.1h0M651.9 189.6h0M658.7 189.2h0M659.3 189.5h0M589.7 190.5h0M592.1 190.1h0M636.4 190.6h0M643.4 190.1h0M643.0 190.8h0M644.5 190.4h0M646.3 190.1h0M657.8 190.2h0M585.5 191.9h0M590.8 191.1h0M591.2 191.7h0M637.9 191.4h0M642.0 191.2h0M641.3 191.1h0M644.6 191.0h0M647.2 191.7h0M649.3 191.8h0M651.3 191.6h0M651.3 191.6h0M654.5 191.7h0M659.6 191.0h0M663.0 191.1h0M587.0 192.9h0M590.1 192.9h0M635.7 192.3h0M638.3 192.5h0M639.3 193.0h0M640.7 192.7h0M644.0 192.4h0M648.9 192.5h0M656.1 192.2h0M590.4 193.2h0M590.8 193.1h0M591.3 193.5h0M591.4 193.6h0M642.1 193.6h0M647.3 194.0h0M648.9 193.5h0M654.5 193.2h0M666.1 193.9h0M668.1 193.4h0M588.8 194.7h0M589.8 194.1h0M590.7 194.5h0M590.2 194.4h0M634.7 194.0h0M641.7 194.1h0M642.0 194.2h0M643.7 194.5h0M650.3 194.3h0M651.0 194.3h0M669.5 194.6h0M585.1 195.5h0M588.6 195.9h0M589.2 196.0h0M634.8 195.6h0M640.2 195.2h0M645.4 196.0h0M646.9 195.1h0M649.7 195.2h0M651.0 195.4h0M650.5 195.3h0M652.4 195.9h0M590.4 196.1h0M591.0 196.0h0M591.2 196.5h0M591.3 196.1h0M632.2 196.8h0M635.9 196.1h0M638.4 196.2h0M639.3 196.2h0M639.5 196.7h0M640.9 196.7h0M645.3 196.4h0M646.8 196.6h0M655.9 196.3h0M658.3 196.2h0M665.3 196.9h0M667.3 196.9h0M592.4 198.0h0M632.8 197.1h0M635.9 197.0h0M637.5 197.2h0M639.7 197.4h0M639.0 198.0h0M641.6 197.7h0M646.9 197.7h0M646.7 197.7h0M649.3 197.2h0M651.2 197.0h0M662.6 197.7h0M670.7 197.7h0M590.3 198.8h0M591.8 198.5h0M591.6 198.6h0M631.7 198.8h0M631.5 199.0h0M636.5 198.6h0M637.7 198.7h0M646.4 198.3h0M653.0 199.0h0M653.4 198.5h0M663.0 198.5h0M588.4 199.4h0M590.5 199.5h0M591.1 199.9h0M592.0 199.7h0M591.9 199.1h0M629.9 199.4h0M635.7 199.1h0M636.7 199.1h0M638.6 199.7h0M639.7 199.4h0M641.3 199.7h0M642.7 199.1h0M648.3 199.9h0M648.1 199.2h0M655.3 199.9h0M655.4 199.2h0M589.7 200.1h0M630.0 200.8h0M631.7 200.9h0M632.4 200.2h0M635.1 200.8h0M636.0 200.4h0M636.8 200.5h0M640.9 200.8h0M641.1 200.9h0M646.5 200.4h0M647.6 200.8h0M655.5 200.6h0M669.1 200.1h0M628.5 201.6h0M628.6 201.9h0M629.0 201.9h0M632.0 201.7h0M633.6 201.3h0M637.5 201.3h0M652.1 201.7h0M654.8 201.3h0M661.5 201.1h0M626.9 202.9h0M629.2 203.0h0M631.7 202.0h0M632.1 202.3h0M634.2 202.2h0M635.9 202.8h0M635.7 203.0h0M636.9 203.0h0M639.1 202.3h0M639.7 202.4h0M641.7 202.7h0M641.8 202.9h0M643.5 202.2h0M646.3 202.5h0M649.4 202.2h0M649.9 202.0h0M626.1 203.7h0M629.1 203.9h0M632.5 203.4h0M636.0 203.4h0M636.8 203.8h0M638.1 203.3h0M652.3 203.3h0M591.9 204.6h0M629.6 204.7h0M631.1 205.0h0M633.7 204.1h0M634.2 204.2h0M636.7 204.9h0M636.6 204.3h0M637.8 204.5h0M639.4 204.9h0M640.0 204.2h0M641.3 204.4h0M641.4 204.7h0M641.7 204.5h0M641.2 204.8h0M652.0 204.8h0M655.6 204.7h0M656.2 204.7h0M624.3 205.8h0M627.7 205.2h0M628.8 205.7h0M628.5 205.0h0M628.8 205.1h0M629.0 205.8h0M629.2 205.4h0M630.3 205.6h0M631.3 205.2h0M635.8 205.4h0M636.6 205.2h0M642.0 205.8h0M643.8 205.2h0M653.0 205.8h0M655.0 206.0h0M592.0 206.3h0M623.8 206.4h0M624.5 206.4h0M626.0 206.7h0M628.3 206.3h0M633.9 206.1h0M634.2 206.8h0M634.3 206.7h0M637.0 206.5h0M638.2 206.7h0M638.8 207.0h0M640.7 206.8h0M641.1 206.5h0M642.3 206.2h0M650.5 206.5h0M650.8 206.9h0M652.4 206.9h0M652.3 206.3h0M661.0 206.4h0M662.7 206.6h0M592.1 207.2h0M623.2 207.3h0M624.8 207.2h0M624.6 207.2h0M626.8 207.8h0M628.6 207.5h0M631.1 207.5h0M635.4 207.7h0M638.2 207.9h0M641.3 207.6h0M650.7 207.3h0M620.5 208.7h0M621.3 208.2h0M621.8 208.4h0M623.5 208.5h0M626.4 208.2h0M634.6 208.8h0M634.1 208.3h0M634.4 208.5h0M643.1 208.5h0M593.1 210.0h0M619.7 209.7h0M621.2 209.7h0M623.9 209.7h0M631.3 209.7h0M631.2 209.7h0M631.9 209.5h0M634.7 209.2h0M636.9 209.9h0M651.4 209.9h0M652.9 209.6h0M589.6 210.0h0M617.4 211.0h0M619.4 210.9h0M620.0 210.1h0M627.4 210.9h0M628.8 210.7h0M629.4 210.3h0M633.7 210.1h0M637.4 210.2h0M639.9 210.7h0M641.1 210.1h0M618.8 211.4h0M619.2 211.9h0M621.9 211.7h0M623.0 211.9h0M622.8 211.8h0M624.2 211.2h0M627.5 211.8h0M628.1 211.9h0M630.2 211.4h0M631.2 211.2h0M631.4 211.7h0M635.8 211.9h0M653.0 211.8h0M656.0 211.3h0M620.3 212.9h0M621.1 212.8h0M622.7 212.5h0M623.8 212.1h0M629.6 212.4h0M632.4 212.9h0M645.4 212.1h0M591.6 213.9h0M593.0 213.1h0M619.9 213.3h0M619.4 213.1h0M620.2 213.3h0M622.0 213.5h0M623.1 213.0h0M625.3 213.4h0M625.2 213.1h0M625.8 214.0h0M627.2 213.5h0M630.8 213.8h0M634.4 213.8h0M650.9 213.1h0M659.7 213.2h0M659.6 213.1h0M660.5 213.3h0M611.7 214.9h0M611.6 214.8h0M615.1 214.2h0M616.9 215.0h0M619.6 215.0h0M621.6 214.1h0M622.1 214.1h0M623.2 214.4h0M628.0 214.4h0M629.6 214.1h0M630.3 214.5h0M631.3 215.0h0M636.2 214.5h0M645.5 214.7h0M611.2 215.5h0M613.6 215.2h0M615.1 215.4h0M617.3 215.6h0M617.4 215.3h0M619.4 215.6h0M620.1 216.0h0M631.2 215.2h0M640.3 215.6h0M656.7 215.8h0M607.5 216.7h0M611.0 216.6h0M611.2 216.6h0M614.6 216.2h0M616.1 216.8h0M617.4 216.0h0M618.6 216.9h0M624.0 216.2h0M626.5 216.5h0M627.3 216.3h0M630.0 216.9h0M640.3 217.0h0M641.8 216.3h0M588.5 217.1h0M605.5 217.2h0M608.5 217.8h0M609.1 217.4h0M610.1 217.7h0M612.9 217.3h0M613.5 217.8h0M615.6 217.9h0M617.7 217.1h0M619.5 217.2h0M619.4 217.5h0M621.3 217.1h0M624.8 217.2h0M629.8 217.7h0M629.5 217.5h0M629.9 217.9h0M600.5 218.7h0M603.5 218.3h0M604.6 218.4h0M604.2 219.0h0M604.2 218.4h0M605.9 218.2h0M605.9 218.1h0M606.2 218.2h0M611.1 218.4h0M612.1 219.0h0M612.0 218.0h0M614.1 218.1h0M615.7 218.4h0M617.7 218.8h0M619.1 218.6h0M619.8 218.2h0M621.4 218.2h0M622.6 218.7h0M633.7 218.5h0M591.1 219.5h0M592.5 219.1h0M593.2 219.1h0M594.2 219.4h0M594.7 219.1h0M595.4 219.4h0M598.6 219.6h0M602.8 219.5h0M603.7 219.9h0M604.4 219.2h0M605.3 219.0h0M605.3 219.2h0M607.2 219.9h0M607.9 219.9h0M610.1 219.3h0M611.3 219.9h0M612.1 219.1h0M614.1 219.3h0M615.5 219.5h0M616.9 219.6h0M619.0 219.0h0M624.5 219.8h0M625.2 219.4h0M633.6 219.1h0M592.4 220.9h0M592.8 220.5h0M593.2 221.0h0M595.9 220.2h0M600.9 220.3h0M601.5 220.3h0M602.8 220.5h0M602.1 220.5h0M606.8 220.4h0M608.2 220.1h0M608.4 220.6h0M611.8 220.6h0M616.0 220.2h0M617.8 220.4h0M625.2 220.5h0M641.0 220.9h0M593.5 222.0h0M604.1 221.6h0M604.1 221.1h0M608.1 221.0h0M611.6 221.4h0M627.4 222.0h0M594.6 222.4h0M595.3 222.6h0M599.5 222.7h0M599.5 222.7h0M603.1 222.3h0M613.7 222.9h0M601.1 224.0h0M617.7 223.1h0M643.1 223.0h0M607.7 224.7h0M609.3 224.3h0M622.1 224.8h0M621.2 225.8h0M633.2 225.1h0M616.8 79.4h0M618.6 86.2h0M621.1 84.4h0M624.8 91.1h0M628.0 89.4h0M634.8 87.9h0M641.0 93.6h0M644.2 92.4h0M609.9 100.6h0M646.0 101.8h0M647.2 106.1h0M633.5 102.3h0M631.0 106.1h0M622.3 108.6h0M619.8 111.1h0M606.1 112.3h0M604.9 114.8h0M634.8 112.3h0M637.3 114.8h0M641.0 113.5h0M654.7 119.8h0M660.9 124.8h0M594.9 127.2h0M690.9 155.5h0M702.6 166.5h0M698.5 172.9h0M712.4 175.5h0M723.9 182.1h0M734.7 195.7h0M742.0 209.6h0M742.0 214.7h0M719.0 193.6h0M696.6 194.3h0M691.0 200.9h0M691.0 210.0h0M679.5 192.6h0M678.8 196.0h0M672.9 207.4h0M679.5 207.4h0M677.8 215.7h0M694.3 182.1h0M692.6 184.4h0M681.0 163.0h0M684.4 161.4h0M689.3 154.8h0M679.5 168.0h0M686.0 171.3h0M682.8 176.2h0M674.5 158.0h0M678.8 148.2h0M672.9 153.2h0M670.8 150.0h0" fill="none" stroke="#000" stroke-width="3.1" stroke-linecap="round"/>
<path d="M586.7 201.0 L741.3 147.0" stroke="#c8c8c8" stroke-width="2.0" opacity="0.25" fill="none"/>
<path d="M586.7 201.0 L741.3 147.0" stroke="#ababab" stroke-width="1.0" fill="none"/>
<text x="0.7" y="10.0" class="lab">(A)</text>
<path d="M42.9 21.3 V233.7 H257.6" class="axis"/>
<path d="M40.9 224.40 H42.9" class="tick"/>
<text x="34.60" y="228.30" class="tl" textLength="4.90" lengthAdjust="spacingAndGlyphs">0</text>
<path d="M40.9 176.13 H42.9" class="tick"/>
<text x="29.69" y="180.03" class="tl" textLength="9.81" lengthAdjust="spacingAndGlyphs">50</text>
<path d="M40.9 127.86 H42.9" class="tick"/>
<text x="24.79" y="131.76" class="tl" textLength="14.71" lengthAdjust="spacingAndGlyphs">100</text>
<path d="M40.9 79.59 H42.9" class="tick"/>
<text x="24.79" y="83.49" class="tl" textLength="14.71" lengthAdjust="spacingAndGlyphs">150</text>
<path d="M40.9 31.32 H42.9" class="tick"/>
<text x="24.79" y="35.22" class="tl" textLength="14.71" lengthAdjust="spacingAndGlyphs">200</text>
<path d="M52.30 233.7 V235.7" class="tick"/>
<text x="49.85" y="245.3" class="tl" textLength="4.90" lengthAdjust="spacingAndGlyphs">0</text>
<path d="M117.80 233.7 V235.7" class="tick"/>
<text x="105.54" y="245.3" class="tl" textLength="24.52" lengthAdjust="spacingAndGlyphs">10000</text>
<path d="M183.30 233.7 V235.7" class="tick"/>
<text x="171.04" y="245.3" class="tl" textLength="24.52" lengthAdjust="spacingAndGlyphs">20000</text>
<path d="M248.80 233.7 V235.7" class="tick"/>
<text x="236.54" y="245.3" class="tl" textLength="24.52" lengthAdjust="spacingAndGlyphs">30000</text>
<text x="144.8" y="269.9" class="ttl" text-anchor="middle">Triglyceride CEE (arbitrary unit)</text>
<text transform="translate(11.3,125.1) rotate(-90)" class="ttl" text-anchor="middle">Triglyceride CV (%)</text>
<text x="54.099999999999994" y="28.6" class="ttl">Total population</text>
<text x="185.90" y="36.00" class="math" font-style="italic" font-size="12.5">ρ</text>
<text x="195.90" y="36.60" class="math" font-size="14" textLength="7.2" lengthAdjust="spacingAndGlyphs">=</text>
<text x="205.80" y="36.00" class="math" font-size="11.2" textLength="22" lengthAdjust="spacingAndGlyphs">0.31</text>
<text x="186.30" y="49.00" class="math" font-style="italic" font-size="10.8">P</text>
<text x="197.00" y="50.00" class="math" font-size="14.5" textLength="6.8" lengthAdjust="spacingAndGlyphs">&lt;</text>
<text x="205.80" y="49.00" class="math" font-size="11.2" textLength="22" lengthAdjust="spacingAndGlyphs">0.01</text>
<text x="260.5" y="10.0" class="lab">(B)</text>
<path d="M303.5 21.3 V233.7 H518.0" class="axis"/>
<path d="M301.5 224.40 H303.5" class="tick"/>
<text x="295.20" y="228.30" class="tl" textLength="4.90" lengthAdjust="spacingAndGlyphs">0</text>
<path d="M301.5 176.13 H303.5" class="tick"/>
<text x="290.29" y="180.03" class="tl" textLength="9.81" lengthAdjust="spacingAndGlyphs">50</text>
<path d="M301.5 127.86 H303.5" class="tick"/>
<text x="285.39" y="131.76" class="tl" textLength="14.71" lengthAdjust="spacingAndGlyphs">100</text>
<path d="M301.5 79.59 H303.5" class="tick"/>
<text x="285.39" y="83.49" class="tl" textLength="14.71" lengthAdjust="spacingAndGlyphs">150</text>
<path d="M301.5 31.32 H303.5" class="tick"/>
<text x="285.39" y="35.22" class="tl" textLength="14.71" lengthAdjust="spacingAndGlyphs">200</text>
<path d="M312.90 233.7 V235.7" class="tick"/>
<text x="310.45" y="245.3" class="tl" textLength="4.90" lengthAdjust="spacingAndGlyphs">0</text>
<path d="M378.10 233.7 V235.7" class="tick"/>
<text x="365.84" y="245.3" class="tl" textLength="24.52" lengthAdjust="spacingAndGlyphs">10000</text>
<path d="M443.30 233.7 V235.7" class="tick"/>
<text x="431.04" y="245.3" class="tl" textLength="24.52" lengthAdjust="spacingAndGlyphs">20000</text>
<path d="M508.50 233.7 V235.7" class="tick"/>
<text x="496.24" y="245.3" class="tl" textLength="24.52" lengthAdjust="spacingAndGlyphs">30000</text>
<text x="407.5" y="269.9" class="ttl" text-anchor="middle">Triglyceride CEE (arbitrary unit)</text>
<text transform="translate(271.90000000000003,124.7) rotate(-90)" class="ttl" text-anchor="middle">Triglyceride CV (%)</text>
<text x="315.90000000000003" y="27.9" class="ttl">Men</text>
<text x="455.00" y="29.50" class="math" font-style="italic" font-size="12.5">ρ</text>
<text x="465.00" y="30.10" class="math" font-size="14" textLength="7.2" lengthAdjust="spacingAndGlyphs">=</text>
<text x="474.90" y="29.50" class="math" font-size="11.2" textLength="22" lengthAdjust="spacingAndGlyphs">0.31</text>
<text x="455.40" y="42.60" class="math" font-style="italic" font-size="10.8">P</text>
<text x="466.10" y="43.60" class="math" font-size="14.5" textLength="6.8" lengthAdjust="spacingAndGlyphs">&lt;</text>
<text x="474.90" y="42.60" class="math" font-size="11.2" textLength="22" lengthAdjust="spacingAndGlyphs">0.01</text>
<text x="520.6" y="10.0" class="lab">(C)</text>
<path d="M564.3 21.3 V233.7 H779.2" class="axis"/>
<path d="M562.3 224.40 H564.3" class="tick"/>
<text x="556.00" y="228.30" class="tl" textLength="4.90" lengthAdjust="spacingAndGlyphs">0</text>
<path d="M562.3 176.13 H564.3" class="tick"/>
<text x="551.09" y="180.03" class="tl" textLength="9.81" lengthAdjust="spacingAndGlyphs">50</text>
<path d="M562.3 127.86 H564.3" class="tick"/>
<text x="546.19" y="131.76" class="tl" textLength="14.71" lengthAdjust="spacingAndGlyphs">100</text>
<path d="M562.3 79.59 H564.3" class="tick"/>
<text x="546.19" y="83.49" class="tl" textLength="14.71" lengthAdjust="spacingAndGlyphs">150</text>
<path d="M562.3 31.32 H564.3" class="tick"/>
<text x="546.19" y="35.22" class="tl" textLength="14.71" lengthAdjust="spacingAndGlyphs">200</text>
<path d="M573.90 233.7 V235.7" class="tick"/>
<text x="571.45" y="245.3" class="tl" textLength="4.90" lengthAdjust="spacingAndGlyphs">0</text>
<path d="M639.10 233.7 V235.7" class="tick"/>
<text x="626.84" y="245.3" class="tl" textLength="24.52" lengthAdjust="spacingAndGlyphs">10000</text>
<path d="M704.30 233.7 V235.7" class="tick"/>
<text x="692.04" y="245.3" class="tl" textLength="24.52" lengthAdjust="spacingAndGlyphs">20000</text>
<path d="M769.50 233.7 V235.7" class="tick"/>
<text x="757.24" y="245.3" class="tl" textLength="24.52" lengthAdjust="spacingAndGlyphs">30000</text>
<text x="670.1" y="269.9" class="ttl" text-anchor="middle">Triglyceride CEE (arbitrary unit)</text>
<text transform="translate(532.5,125.0) rotate(-90)" class="ttl" text-anchor="middle">Triglyceride CV (%)</text>
<text x="578.5" y="27.3" class="ttl">Women</text>
<text x="725.40" y="29.00" class="math" font-style="italic" font-size="12.5">ρ</text>
<text x="735.40" y="29.60" class="math" font-size="14" textLength="7.2" lengthAdjust="spacingAndGlyphs">=</text>
<text x="745.30" y="29.00" class="math" font-size="11.2" textLength="22" lengthAdjust="spacingAndGlyphs">0.29</text>
<text x="725.80" y="42.30" class="math" font-style="italic" font-size="10.8">P</text>
<text x="736.50" y="43.30" class="math" font-size="14.5" textLength="6.8" lengthAdjust="spacingAndGlyphs">&lt;</text>
<text x="745.30" y="42.30" class="math" font-size="11.2" textLength="22" lengthAdjust="spacingAndGlyphs">0.01</text>
</svg></body></html>
